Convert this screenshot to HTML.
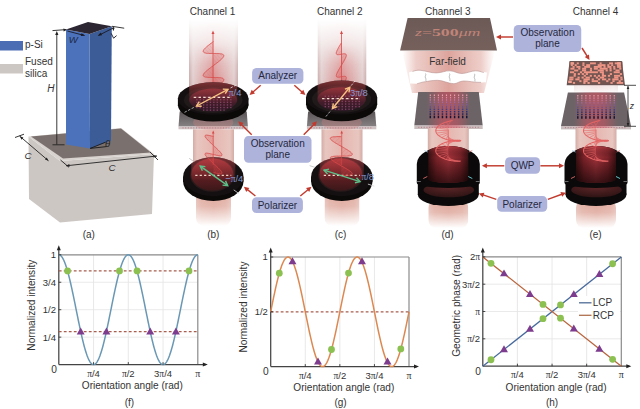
<!DOCTYPE html>
<html><head><meta charset="utf-8"><style>
html,body{margin:0;padding:0;background:#fff;}
svg{display:block;font-family:"Liberation Sans", sans-serif;}
</style></head><body>
<svg width="640" height="409" viewBox="0 0 640 409">
<defs>
<linearGradient id="beamH" x1="0" x2="1" y1="0" y2="0">
 <stop offset="0" stop-color="#c8a4a4" stop-opacity="0.5"/>
 <stop offset="0.1" stop-color="#dcc0c0" stop-opacity="0.55"/>
 <stop offset="0.5" stop-color="#e2aaaa" stop-opacity="0.65"/>
 <stop offset="0.9" stop-color="#dcc0c0" stop-opacity="0.55"/>
 <stop offset="1" stop-color="#c8a4a4" stop-opacity="0.5"/>
</linearGradient>
<linearGradient id="bTop" x1="0" x2="1" y1="0" y2="0">
 <stop offset="0" stop-color="#c09a9a"/>
 <stop offset="0.08" stop-color="#dcc4c4"/>
 <stop offset="0.5" stop-color="#dcaaaa"/>
 <stop offset="0.92" stop-color="#dcc4c4"/>
 <stop offset="1" stop-color="#c09a9a"/>
</linearGradient>
<linearGradient id="bMid" x1="0" x2="1" y1="0" y2="0">
 <stop offset="0" stop-color="#d4aca6"/>
 <stop offset="0.1" stop-color="#e8c6c0"/>
 <stop offset="0.5" stop-color="#e6b6b0"/>
 <stop offset="0.9" stop-color="#e8c6c0"/>
 <stop offset="1" stop-color="#d4aca6"/>
</linearGradient>
<linearGradient id="bBot" x1="0" x2="1" y1="0" y2="0">
 <stop offset="0" stop-color="#e4bcb4"/>
 <stop offset="0.15" stop-color="#e0aca0"/>
 <stop offset="0.5" stop-color="#dca296"/>
 <stop offset="0.85" stop-color="#e0aca0"/>
 <stop offset="1" stop-color="#e4bcb4"/>
</linearGradient>
<linearGradient id="glowH" x1="0" x2="1" y1="0" y2="0">
 <stop offset="0" stop-color="#d05050" stop-opacity="0"/>
 <stop offset="0.3" stop-color="#d05050" stop-opacity="0.3"/>
 <stop offset="0.5" stop-color="#d04848" stop-opacity="0.5"/>
 <stop offset="0.7" stop-color="#d05050" stop-opacity="0.3"/>
 <stop offset="1" stop-color="#d05050" stop-opacity="0"/>
</linearGradient>
<linearGradient id="fadeUp" x1="0" x2="0" y1="0" y2="1">
 <stop offset="0" stop-color="#fff" stop-opacity="0"/>
 <stop offset="0.35" stop-color="#fff" stop-opacity="0.45"/>
 <stop offset="1" stop-color="#fff" stop-opacity="1"/>
</linearGradient>
<linearGradient id="fadeDown" x1="0" x2="0" y1="0" y2="1">
 <stop offset="0" stop-color="#fff" stop-opacity="1"/>
 <stop offset="0.6" stop-color="#fff" stop-opacity="0.6"/>
 <stop offset="1" stop-color="#fff" stop-opacity="0"/>
</linearGradient>
<mask id="mUp" maskContentUnits="objectBoundingBox"><rect x="0" y="0" width="1" height="1" fill="url(#fadeUp)"/></mask>
<mask id="mDown" maskContentUnits="objectBoundingBox"><rect x="0" y="0" width="1" height="1" fill="url(#fadeDown)"/></mask>
<linearGradient id="fadeTop2" x1="0" x2="0" y1="0" y2="1">
 <stop offset="0" stop-color="#fff" stop-opacity="0"/>
 <stop offset="0.25" stop-color="#fff" stop-opacity="0.25"/>
 <stop offset="0.6" stop-color="#fff" stop-opacity="0.7"/>
 <stop offset="1" stop-color="#fff" stop-opacity="0.95"/>
</linearGradient>
<mask id="mTop2" maskContentUnits="objectBoundingBox"><rect x="0" y="0" width="1" height="1" fill="url(#fadeTop2)"/></mask>
<linearGradient id="fadeBot2" x1="0" x2="0" y1="0" y2="1">
 <stop offset="0" stop-color="#fff" stop-opacity="1"/>
 <stop offset="0.45" stop-color="#fff" stop-opacity="0.8"/>
 <stop offset="1" stop-color="#fff" stop-opacity="0"/>
</linearGradient>
<mask id="mBot2" maskContentUnits="objectBoundingBox"><rect x="0" y="0" width="1" height="1" fill="url(#fadeBot2)"/></mask>
<linearGradient id="plate" x1="0" x2="0" y1="0" y2="1">
 <stop offset="0" stop-color="#5a5456"/>
 <stop offset="1" stop-color="#858082"/>
</linearGradient>
<radialGradient id="win" cx="0.5" cy="0.5" r="0.5">
 <stop offset="0" stop-color="#b83a44"/>
 <stop offset="0.7" stop-color="#8a2c36"/>
 <stop offset="1" stop-color="#4a2024"/>
</radialGradient>
<linearGradient id="cyl" x1="0" x2="1" y1="0" y2="0">
 <stop offset="0" stop-color="#6a1c22"/>
 <stop offset="0.5" stop-color="#c8404a"/>
 <stop offset="1" stop-color="#6a1c22"/>
</linearGradient>
<linearGradient id="ffield" x1="0" x2="0" y1="0" y2="1">
 <stop offset="0" stop-color="#e8b0a8" stop-opacity="0.9"/>
 <stop offset="1" stop-color="#e08888" stop-opacity="0.9"/>
</linearGradient>

<linearGradient id="winA" x1="0" x2="0" y1="0" y2="1">
 <stop offset="0" stop-color="#6e262e"/>
 <stop offset="0.5" stop-color="#4a1e2a"/>
 <stop offset="1" stop-color="#301a28"/>
</linearGradient>
<linearGradient id="winP" x1="0" x2="0" y1="0" y2="1">
 <stop offset="0" stop-color="#8a2a2e"/>
 <stop offset="0.5" stop-color="#642024"/>
 <stop offset="1" stop-color="#3c1719"/>
</linearGradient>
<linearGradient id="beamIn" x1="0" x2="0" y1="0" y2="1">
 <stop offset="0" stop-color="#d04a50" stop-opacity="0.55"/>
 <stop offset="1" stop-color="#d04a50" stop-opacity="0"/>
</linearGradient>

<linearGradient id="ffH" x1="0" x2="1" y1="0" y2="0">
 <stop offset="0" stop-color="#e8b8b0" stop-opacity="0"/>
 <stop offset="0.15" stop-color="#e2aca4" stop-opacity="0.6"/>
 <stop offset="0.5" stop-color="#da9c94" stop-opacity="0.92"/>
 <stop offset="0.85" stop-color="#e2aca4" stop-opacity="0.6"/>
 <stop offset="1" stop-color="#e8b8b0" stop-opacity="0"/>
</linearGradient>
<linearGradient id="obsG" x1="0" x2="0" y1="0" y2="1">
 <stop offset="0" stop-color="#6c5a57"/>
 <stop offset="1" stop-color="#76605c"/>
</linearGradient>

<linearGradient id="metaGlow" x1="0" x2="1" y1="0" y2="0">
 <stop offset="0" stop-color="#e05060" stop-opacity="0"/>
 <stop offset="0.3" stop-color="#e05060" stop-opacity="0.45"/>
 <stop offset="0.5" stop-color="#e05060" stop-opacity="0.55"/>
 <stop offset="0.7" stop-color="#e05060" stop-opacity="0.45"/>
 <stop offset="1" stop-color="#e05060" stop-opacity="0"/>
</linearGradient>
<linearGradient id="cylR" x1="0" x2="1" y1="0" y2="0">
 <stop offset="0" stop-color="#4a1418"/>
 <stop offset="0.35" stop-color="#a8303a"/>
 <stop offset="0.6" stop-color="#b83a44"/>
 <stop offset="1" stop-color="#4a1418"/>
</linearGradient>
<linearGradient id="cylV" x1="0" x2="0" y1="0" y2="1">
 <stop offset="0" stop-color="#000" stop-opacity="0"/>
 <stop offset="1" stop-color="#000" stop-opacity="0.45"/>
</linearGradient>

<linearGradient id="colH" x1="0" x2="1" y1="0" y2="0">
 <stop offset="0" stop-color="#3a1012"/>
 <stop offset="0.2" stop-color="#7a2228"/>
 <stop offset="0.5" stop-color="#a0323a"/>
 <stop offset="0.8" stop-color="#7a2228"/>
 <stop offset="1" stop-color="#3a1012"/>
</linearGradient>
<linearGradient id="colV" x1="0" x2="0" y1="0" y2="1">
 <stop offset="0" stop-color="#e05058" stop-opacity="0.4"/>
 <stop offset="0.3" stop-color="#000" stop-opacity="0"/>
 <stop offset="1" stop-color="#000" stop-opacity="0.62"/>
</linearGradient>
<radialGradient id="polWin" cx="0.5" cy="0.3" r="0.65">
 <stop offset="0" stop-color="#5e2628"/>
 <stop offset="1" stop-color="#321516"/>
</radialGradient>
</defs>
<rect width="640" height="409" fill="#fff"/>
<g id="pa">
<rect x="0" y="41" width="23" height="9.5" fill="#4a6db4"/>
<text x="25" y="48" font-size="10" fill="#333" text-anchor="start" >p-Si</text>
<rect x="0" y="64" width="23" height="9.5" fill="#cdc7c4"/>
<text x="25" y="65.2" font-size="10" fill="#333" text-anchor="start" >Fused</text>
<text x="25" y="76.6" font-size="10" fill="#333" text-anchor="start" >silica</text>
<polygon points="28.50,136.50 60.00,161.00 154.00,154.00 152.00,214.00 60.00,222.50 29.00,199.00" fill="#cdc7c4" />
<polygon points="28.50,136.50 121.00,128.00 154.00,154.00 60.00,161.00" fill="#d9d3d0" />
<polygon points="31.00,136.50 121.00,128.50 151.00,152.50 63.00,158.50" fill="#7a716e" />
<polygon points="66.00,29.50 89.50,34.00 90.00,148.50 66.00,144.50" fill="#4b72bb" />
<polygon points="89.50,34.00 111.80,26.30 111.00,140.80 90.00,148.50" fill="#3c5c98" />
<polygon points="66.00,29.50 88.00,21.90 111.80,26.30 89.50,34.00" fill="#2b2632" />
<path d="M105.5,142.2 L90.2,148.4 L106.5,146.6" fill="none" stroke="#1a1a1a" stroke-width="0.9"/>
<text x="105" y="147.4" font-size="9.5" fill="#222" text-anchor="start" font-style="italic">θ</text>
<line x1="56.80" y1="33.00" x2="56.80" y2="144.50" stroke="#222" stroke-width="0.9" />
<polygon points="56.80,31.00 58.40,35.00 55.20,35.00" fill="#222" />
<line x1="52.50" y1="144.80" x2="64.50" y2="144.80" stroke="#222" stroke-width="0.9" />
<text x="47.2" y="92.2" font-size="10" fill="#333" text-anchor="start" font-style="italic">H</text>
<line x1="67.30" y1="31.00" x2="84.50" y2="35.50" stroke="#1a1a22" stroke-width="0.9" />
<polygon points="85.00,35.60 80.75,36.05 81.51,33.14" fill="#1a1a22" />
<line x1="98.60" y1="35.40" x2="113.60" y2="27.80" stroke="#1a1a22" stroke-width="0.9" />
<polygon points="97.80,35.80 100.65,32.61 102.04,35.27" fill="#1a1a22" />
<line x1="112.00" y1="26.30" x2="124.20" y2="28.20" stroke="#222" stroke-width="0.9" />
<line x1="52.50" y1="30.60" x2="66.00" y2="29.60" stroke="#222" stroke-width="0.9" />
<polygon points="67.00,29.80 63.57,31.45 63.44,28.46" fill="#222" />
<line x1="113.40" y1="26.80" x2="113.40" y2="30.50" stroke="#222" stroke-width="0.8" />
<polygon points="113.40,30.80 112.10,27.80 114.70,27.80" fill="#222" />
<text x="68.8" y="43.2" font-size="9.6" fill="#1e2a48" text-anchor="start" font-style="italic">W</text>
<path d="M111.2,33.4 L113.6,38.2 L116.6,35.6" fill="none" stroke="#1a1a22" stroke-width="0.9"/>
<line x1="19.50" y1="136.00" x2="48.50" y2="160.80" stroke="#222" stroke-width="0.9" />
<polygon points="48.50,160.80 44.93,159.58 46.76,157.46" fill="#222" />
<polygon points="19.80,136.30 23.37,137.51 21.55,139.64" fill="#222" />
<line x1="15.00" y1="137.50" x2="24.00" y2="134.20" stroke="#222" stroke-width="0.9" />
<line x1="60.50" y1="160.00" x2="69.00" y2="167.30" stroke="#222" stroke-width="0.9" />
<line x1="66.00" y1="165.80" x2="157.00" y2="156.00" stroke="#222" stroke-width="0.9" />
<polygon points="66.00,165.80 69.32,164.02 69.63,166.80" fill="#222" />
<polygon points="157.00,156.00 153.68,157.78 153.37,155.00" fill="#222" />
<line x1="150.00" y1="152.00" x2="158.00" y2="160.00" stroke="#222" stroke-width="0.9" />
<text x="24.6" y="158.6" font-size="9.8" fill="#333" text-anchor="start" font-style="italic">C</text>
<text x="108.4" y="170.6" font-size="9.8" fill="#333" text-anchor="start" font-style="italic">C</text>
<text x="88.8" y="238.3" font-size="10" fill="#333" text-anchor="middle" >(a)</text>
</g>
<rect x="189.0" y="19" width="49.0" height="76" rx="0" fill="url(#bTop)" mask="url(#mTop2)" opacity="1"/>
<rect x="193.5" y="45" width="40.0" height="50" rx="0" fill="url(#glowH)" mask="url(#mUp)" opacity="1"/>
<path d="M213.50,41.50 L212.60,42.17 L211.71,42.83 L210.83,43.49 L209.97,44.14 L209.13,44.78 L208.33,45.41 L207.57,46.03 L206.86,46.63 L206.20,47.20 L205.59,47.76 L205.04,48.30 L204.56,48.81 L204.15,49.30 L203.81,49.76 L203.54,50.19 L203.35,50.60 L203.23,50.97 L203.20,51.32 L203.24,51.64 L203.37,51.93 L203.57,52.19 L203.84,52.42 L204.20,52.63 L204.62,52.80 L205.11,52.96 L205.66,53.09 L206.28,53.20 L206.95,53.28 L207.67,53.35 L208.43,53.40 L209.23,53.44 L210.07,53.47 L210.93,53.48 L211.82,53.49 L212.71,53.50 L213.61,53.50 L214.51,53.50 L215.40,53.51 L216.28,53.52 L217.14,53.54 L217.97,53.57 L218.76,53.61 L219.52,53.66 L220.22,53.74 L220.88,53.83 L221.48,53.94 L222.02,54.08 L222.49,54.24 L222.90,54.42 L223.23,54.63 L223.49,54.87 L223.67,55.14 L223.77,55.44 L223.80,55.76 L223.74,56.12 L223.61,56.50 L223.40,56.91 L223.12,57.35 L222.76,57.82 L222.33,58.31 L221.83,58.83 L221.27,59.37 L220.64,59.94 L219.97,60.52 L219.24,61.12 L218.47,61.74 L217.66,62.37 L216.82,63.02 L215.96,63.67 L215.07,64.33 L214.18,65.00 L213.28,65.67 L212.38,66.33 L211.49,66.99 L210.61,67.65 L209.76,68.30 L208.93,68.94 L208.14,69.57 L207.39,70.18 L206.69,70.77 L206.04,71.34 L205.45,71.90 L204.92,72.43 L204.45,72.93 L204.06,73.41 L203.73,73.87 L203.48,74.30 L203.31,74.69 L203.22,75.06 L203.20,75.40 L203.27,75.71 L203.41,75.99 L203.63,76.25 L203.92,76.47 L204.29,76.67 L204.73,76.84 L205.24,76.99 L205.81,77.12 L206.44,77.22 L207.12,77.30 L207.85,77.37 L208.63,77.42 L209.44,77.45 L210.28,77.47 L211.15,77.49 L212.04,77.50 L212.93,77.50 L213.83,77.50 L214.73,77.50 L215.62,77.51 L216.50,77.52 L217.35,77.54 L218.17,77.57 L218.95,77.62 L219.70,77.68 L220.39,77.76 L221.04,77.85 L221.62,77.97 L222.14,78.11 L222.60,78.28 L222.99,78.47 L223.30,78.69 L223.54,78.94 L223.70,79.21 L223.79,79.52 L223.79,79.85 L223.72,80.21 L223.57,80.60 L223.34,81.02 L223.03,81.47 L222.66,81.94 L222.21,82.44 L221.69,82.96 L221.12,83.51 L220.48,84.08 L219.79,84.67 L219.06,85.27 L218.28,85.90 L217.46,86.53 L216.61,87.18 L215.74,87.84 L214.85,88.50 L213.96,89.16 L213.05,89.83 L212.16,90.50" fill="none" stroke="#d84848" stroke-width="0.8"/>
<line x1="213.50" y1="42.80" x2="210.06" y2="44.07" stroke="#d84848" stroke-width="0.4" opacity="0.8"/>
<line x1="213.50" y1="44.10" x2="207.02" y2="46.49" stroke="#d84848" stroke-width="0.4" opacity="0.8"/>
<line x1="213.50" y1="45.40" x2="204.72" y2="48.64" stroke="#d84848" stroke-width="0.4" opacity="0.8"/>
<line x1="213.50" y1="46.70" x2="203.43" y2="50.42" stroke="#d84848" stroke-width="0.4" opacity="0.8"/>
<line x1="213.50" y1="48.00" x2="203.29" y2="51.77" stroke="#d84848" stroke-width="0.4" opacity="0.8"/>
<line x1="213.50" y1="49.30" x2="204.32" y2="52.69" stroke="#d84848" stroke-width="0.4" opacity="0.8"/>
<line x1="213.50" y1="50.60" x2="206.41" y2="53.22" stroke="#d84848" stroke-width="0.4" opacity="0.8"/>
<line x1="213.50" y1="51.90" x2="209.31" y2="53.45" stroke="#d84848" stroke-width="0.4" opacity="0.8"/>
<line x1="213.50" y1="54.50" x2="216.17" y2="53.52" stroke="#d84848" stroke-width="0.4" opacity="0.8"/>
<line x1="213.50" y1="55.80" x2="219.33" y2="53.65" stroke="#d84848" stroke-width="0.4" opacity="0.8"/>
<line x1="213.50" y1="57.10" x2="221.83" y2="54.03" stroke="#d84848" stroke-width="0.4" opacity="0.8"/>
<line x1="213.50" y1="58.40" x2="223.38" y2="54.76" stroke="#d84848" stroke-width="0.4" opacity="0.8"/>
<line x1="213.50" y1="59.70" x2="223.79" y2="55.91" stroke="#d84848" stroke-width="0.4" opacity="0.8"/>
<line x1="213.50" y1="61.00" x2="223.02" y2="57.49" stroke="#d84848" stroke-width="0.4" opacity="0.8"/>
<line x1="213.50" y1="62.30" x2="221.15" y2="59.48" stroke="#d84848" stroke-width="0.4" opacity="0.8"/>
<line x1="213.50" y1="63.60" x2="218.41" y2="61.79" stroke="#d84848" stroke-width="0.4" opacity="0.8"/>
<line x1="213.50" y1="64.90" x2="215.11" y2="64.31" stroke="#d84848" stroke-width="0.4" opacity="0.8"/>
<line x1="213.50" y1="66.20" x2="211.62" y2="66.89" stroke="#d84848" stroke-width="0.4" opacity="0.8"/>
<line x1="213.50" y1="67.50" x2="208.35" y2="69.40" stroke="#d84848" stroke-width="0.4" opacity="0.8"/>
<line x1="213.50" y1="68.80" x2="205.67" y2="71.69" stroke="#d84848" stroke-width="0.4" opacity="0.8"/>
<line x1="213.50" y1="70.10" x2="203.88" y2="73.65" stroke="#d84848" stroke-width="0.4" opacity="0.8"/>
<line x1="213.50" y1="71.40" x2="203.20" y2="75.20" stroke="#d84848" stroke-width="0.4" opacity="0.8"/>
<line x1="213.50" y1="72.70" x2="203.70" y2="76.31" stroke="#d84848" stroke-width="0.4" opacity="0.8"/>
<line x1="213.50" y1="74.00" x2="205.33" y2="77.01" stroke="#d84848" stroke-width="0.4" opacity="0.8"/>
<line x1="213.50" y1="75.30" x2="207.89" y2="77.37" stroke="#d84848" stroke-width="0.4" opacity="0.8"/>
<line x1="213.50" y1="76.60" x2="211.10" y2="77.49" stroke="#d84848" stroke-width="0.4" opacity="0.8"/>
<line x1="213.50" y1="79.20" x2="217.93" y2="77.56" stroke="#d84848" stroke-width="0.4" opacity="0.8"/>
<line x1="213.50" y1="80.50" x2="220.78" y2="77.81" stroke="#d84848" stroke-width="0.4" opacity="0.8"/>
<line x1="213.50" y1="81.80" x2="222.80" y2="78.37" stroke="#d84848" stroke-width="0.4" opacity="0.8"/>
<line x1="213.50" y1="83.10" x2="223.74" y2="79.32" stroke="#d84848" stroke-width="0.4" opacity="0.8"/>
<line x1="213.50" y1="84.40" x2="223.52" y2="80.70" stroke="#d84848" stroke-width="0.4" opacity="0.8"/>
<line x1="213.50" y1="85.70" x2="222.14" y2="82.51" stroke="#d84848" stroke-width="0.4" opacity="0.8"/>
<line x1="213.50" y1="87.00" x2="219.77" y2="84.69" stroke="#d84848" stroke-width="0.4" opacity="0.8"/>
<line x1="213.50" y1="88.30" x2="216.68" y2="87.13" stroke="#d84848" stroke-width="0.4" opacity="0.8"/>
<line x1="213.00" y1="34.00" x2="213.00" y2="90.00" stroke="#d84848" stroke-width="0.8" />
<polygon points="213.00,30.50 214.50,34.00 211.50,34.00" fill="#d84848" />
<polygon points="179.70,111.50 246.70,111.50 247.90,126.50 178.50,126.50" fill="url(#plate)" />
<rect x="178.50" y="126.50" width="69.40" height="2.8" fill="#cfc2c2"/>
<line x1="182.50" y1="127.90" x2="243.90" y2="127.90" stroke="#b07080" stroke-width="0.9" stroke-dasharray="1 1.7"/>
<ellipse cx="213.2" cy="122.4" rx="20.10" ry="8.01" fill="#d08080" opacity="0.35"/>
<clipPath id="dc1"><ellipse cx="213.2" cy="98.5" rx="35.3" ry="16.3"/></clipPath>
<ellipse cx="213.2" cy="105.2" rx="35.3" ry="16.3" fill="#0c0909"/>
<rect x="177.89999999999998" y="98.5" width="70.6" height="6.7" fill="#0c0909"/>
<ellipse cx="213.2" cy="98.5" rx="35.3" ry="16.3" fill="#141011"/>
<ellipse cx="213.2" cy="100.0" rx="29.30" ry="13.04" fill="#211a1b"/>
<ellipse cx="213.2" cy="100.0" rx="24.00" ry="11.41" fill="url(#winA)"/>
<g fill="#9a5078" opacity="0.75"><rect x="196.2" y="96.5" width="1.3" height="1.3"/><rect x="196.2" y="99.1" width="1.3" height="1.3"/><rect x="196.2" y="101.7" width="1.3" height="1.3"/><rect x="196.2" y="104.3" width="1.3" height="1.3"/><rect x="196.2" y="106.9" width="1.3" height="1.3"/><rect x="199.6" y="96.5" width="1.3" height="1.3"/><rect x="199.6" y="99.1" width="1.3" height="1.3"/><rect x="199.6" y="101.7" width="1.3" height="1.3"/><rect x="199.6" y="104.3" width="1.3" height="1.3"/><rect x="199.6" y="106.9" width="1.3" height="1.3"/><rect x="203.0" y="96.5" width="1.3" height="1.3"/><rect x="203.0" y="99.1" width="1.3" height="1.3"/><rect x="203.0" y="101.7" width="1.3" height="1.3"/><rect x="203.0" y="104.3" width="1.3" height="1.3"/><rect x="203.0" y="106.9" width="1.3" height="1.3"/><rect x="203.0" y="109.5" width="1.3" height="1.3"/><rect x="206.4" y="96.5" width="1.3" height="1.3"/><rect x="206.4" y="99.1" width="1.3" height="1.3"/><rect x="206.4" y="101.7" width="1.3" height="1.3"/><rect x="206.4" y="104.3" width="1.3" height="1.3"/><rect x="206.4" y="106.9" width="1.3" height="1.3"/><rect x="206.4" y="109.5" width="1.3" height="1.3"/><rect x="209.8" y="96.5" width="1.3" height="1.3"/><rect x="209.8" y="99.1" width="1.3" height="1.3"/><rect x="209.8" y="101.7" width="1.3" height="1.3"/><rect x="209.8" y="104.3" width="1.3" height="1.3"/><rect x="209.8" y="106.9" width="1.3" height="1.3"/><rect x="209.8" y="109.5" width="1.3" height="1.3"/><rect x="213.2" y="96.5" width="1.3" height="1.3"/><rect x="213.2" y="99.1" width="1.3" height="1.3"/><rect x="213.2" y="101.7" width="1.3" height="1.3"/><rect x="213.2" y="104.3" width="1.3" height="1.3"/><rect x="213.2" y="106.9" width="1.3" height="1.3"/><rect x="213.2" y="109.5" width="1.3" height="1.3"/><rect x="216.6" y="96.5" width="1.3" height="1.3"/><rect x="216.6" y="99.1" width="1.3" height="1.3"/><rect x="216.6" y="101.7" width="1.3" height="1.3"/><rect x="216.6" y="104.3" width="1.3" height="1.3"/><rect x="216.6" y="106.9" width="1.3" height="1.3"/><rect x="216.6" y="109.5" width="1.3" height="1.3"/><rect x="220.0" y="96.5" width="1.3" height="1.3"/><rect x="220.0" y="99.1" width="1.3" height="1.3"/><rect x="220.0" y="101.7" width="1.3" height="1.3"/><rect x="220.0" y="104.3" width="1.3" height="1.3"/><rect x="220.0" y="106.9" width="1.3" height="1.3"/><rect x="220.0" y="109.5" width="1.3" height="1.3"/><rect x="223.4" y="96.5" width="1.3" height="1.3"/><rect x="223.4" y="99.1" width="1.3" height="1.3"/><rect x="223.4" y="101.7" width="1.3" height="1.3"/><rect x="223.4" y="104.3" width="1.3" height="1.3"/><rect x="223.4" y="106.9" width="1.3" height="1.3"/><rect x="223.4" y="109.5" width="1.3" height="1.3"/><rect x="226.8" y="96.5" width="1.3" height="1.3"/><rect x="226.8" y="99.1" width="1.3" height="1.3"/><rect x="226.8" y="101.7" width="1.3" height="1.3"/><rect x="226.8" y="104.3" width="1.3" height="1.3"/><rect x="226.8" y="106.9" width="1.3" height="1.3"/><rect x="230.2" y="96.5" width="1.3" height="1.3"/><rect x="230.2" y="99.1" width="1.3" height="1.3"/><rect x="230.2" y="101.7" width="1.3" height="1.3"/><rect x="230.2" y="104.3" width="1.3" height="1.3"/><rect x="230.2" y="106.9" width="1.3" height="1.3"/></g>
<rect x="189.2" y="82.2" width="48" height="21.19" fill="url(#beamIn)" clip-path="url(#dc1)"/>
<line x1="193.7" y1="97.4" x2="231.2" y2="97.4" stroke="#f4dcd0" stroke-width="1.3" stroke-dasharray="2.4 2.4"/>
<line x1="184.53" y1="112.35" x2="193.98" y2="107.34" stroke="#ccc" stroke-width="0.8" stroke-dasharray="2.5 1.5"/>
<line x1="230.52" y1="87.96" x2="237.45" y2="84.29" stroke="#e8e8e8" stroke-width="0.8" stroke-dasharray="2.5 1.5"/>
<line x1="196.50" y1="106.00" x2="228.00" y2="89.30" stroke="#f7c283" stroke-width="1.4"/>
<polyline points="225.24,93.70 228.00,89.30 222.81,89.11" fill="none" stroke="#f7c283" stroke-width="1.4"/>
<polyline points="201.69,106.19 196.50,106.00 199.26,101.60" fill="none" stroke="#f7c283" stroke-width="1.4"/>
<text x="228.8" y="95.6" font-size="9.4" fill="#8a9ad0" text-anchor="start" ><tspan font-family="Liberation Serif">π</tspan>/4</text>
<rect x="193.0" y="129.3" width="41.0" height="40.69999999999999" rx="0" fill="url(#bMid)" opacity="1"/>
<rect x="196.0" y="190" width="35.0" height="36" rx="8" fill="url(#bBot)" mask="url(#mBot2)" opacity="1"/>
<clipPath id="dc2"><ellipse cx="213.3" cy="176.8" rx="30.2" ry="19.5"/></clipPath>
<ellipse cx="213.3" cy="181.5" rx="30.2" ry="19.5" fill="#0c0909"/>
<rect x="183.10000000000002" y="176.8" width="60.4" height="4.7" fill="#0c0909"/>
<ellipse cx="213.3" cy="176.8" rx="30.2" ry="19.5" fill="#141011"/>
<ellipse cx="212.3" cy="174.8" rx="22.35" ry="16.96" fill="#2a1a1b"/>
<ellipse cx="212.3" cy="174.5" rx="21.14" ry="15.99" fill="url(#winP)"/>
<rect x="191.3" y="157.3" width="44" height="23.40" fill="url(#beamIn)" clip-path="url(#dc2)"/>
<line x1="195.3" y1="175.3" x2="231.3" y2="175.3" stroke="#f0d8c8" stroke-width="1.3" stroke-dasharray="2.2 2.2"/>
<line x1="189.20" y1="158.30" x2="193.32" y2="161.22" stroke="#bbb" stroke-width="0.8"/>
<line x1="233.75" y1="189.89" x2="238.70" y2="193.40" stroke="#ddd" stroke-width="0.8"/>
<line x1="200.20" y1="166.10" x2="227.70" y2="185.60" stroke="#5cc089" stroke-width="1.4"/>
<polyline points="222.53,185.12 227.70,185.60 225.53,180.88" fill="none" stroke="#5cc089" stroke-width="1.4"/>
<polyline points="202.37,170.82 200.20,166.10 205.37,166.58" fill="none" stroke="#5cc089" stroke-width="1.4"/>
<text x="225.2" y="182.3" font-size="9.4" fill="#8a9ad0" text-anchor="start" >−<tspan font-family="Liberation Serif">π</tspan>/4</text>
<path d="M213.50,136.50 L212.51,136.25 L211.54,136.01 L210.59,135.79 L209.69,135.59 L208.83,135.42 L208.04,135.29 L207.32,135.20 L206.68,135.16 L206.14,135.17 L205.70,135.24 L205.36,135.38 L205.13,135.58 L205.01,135.84 L205.01,136.18 L205.13,136.58 L205.36,137.04 L205.70,137.58 L206.14,138.17 L206.68,138.82 L207.32,139.53 L208.04,140.29 L208.83,141.09 L209.69,141.92 L210.59,142.79 L211.54,143.68 L212.51,144.59 L213.50,145.50 L214.49,146.41 L215.46,147.32 L216.41,148.21 L217.31,149.08 L218.17,149.91 L218.96,150.71 L219.68,151.47 L220.32,152.18 L220.86,152.83 L221.30,153.42 L221.64,153.96 L221.87,154.42 L221.99,154.82 L221.99,155.16 L221.87,155.42 L221.64,155.62 L221.30,155.76 L220.86,155.83 L220.32,155.84 L219.68,155.80 L218.96,155.71 L218.17,155.58 L217.31,155.41 L216.41,155.21 L215.46,154.99 L214.49,154.75 L213.50,154.50 L212.51,154.25 L211.54,154.01 L210.59,153.79 L209.69,153.59 L208.83,153.42 L208.04,153.29 L207.32,153.20 L206.68,153.16 L206.14,153.17 L205.70,153.24 L205.36,153.38 L205.13,153.58 L205.01,153.84 L205.01,154.18 L205.13,154.58 L205.36,155.04 L205.70,155.58 L206.14,156.17 L206.68,156.82 L207.32,157.53 L208.04,158.29 L208.83,159.09 L209.69,159.92 L210.59,160.79 L211.54,161.68 L212.51,162.59 L213.50,163.50 L214.49,164.41 L215.46,165.32 L216.41,166.21 L217.31,167.08 L218.17,167.91 L218.96,168.71 L219.68,169.47 L220.32,170.18 L220.86,170.83 L221.30,171.42 L221.64,171.96 L221.87,172.42 L221.99,172.82 L221.99,173.16 L221.87,173.42 L221.64,173.62 L221.30,173.76 L220.86,173.83 L220.32,173.84 L219.68,173.80 L218.96,173.71 L218.17,173.58 L217.31,173.41 L216.41,173.21 L215.46,172.99 L214.49,172.75 L213.50,172.50" fill="none" stroke="#d84848" stroke-width="0.8"/>
<line x1="213.50" y1="137.80" x2="209.77" y2="135.61" stroke="#d84848" stroke-width="0.4" opacity="0.8"/>
<line x1="213.50" y1="139.10" x2="206.80" y2="135.16" stroke="#d84848" stroke-width="0.4" opacity="0.8"/>
<line x1="213.50" y1="140.40" x2="205.19" y2="135.51" stroke="#d84848" stroke-width="0.4" opacity="0.8"/>
<line x1="213.50" y1="141.70" x2="205.25" y2="136.85" stroke="#d84848" stroke-width="0.4" opacity="0.8"/>
<line x1="213.50" y1="143.00" x2="206.99" y2="139.17" stroke="#d84848" stroke-width="0.4" opacity="0.8"/>
<line x1="213.50" y1="144.30" x2="210.04" y2="142.27" stroke="#d84848" stroke-width="0.4" opacity="0.8"/>
<line x1="213.50" y1="146.90" x2="217.49" y2="149.25" stroke="#d84848" stroke-width="0.4" opacity="0.8"/>
<line x1="213.50" y1="148.20" x2="220.38" y2="152.25" stroke="#d84848" stroke-width="0.4" opacity="0.8"/>
<line x1="213.50" y1="149.50" x2="221.87" y2="154.42" stroke="#d84848" stroke-width="0.4" opacity="0.8"/>
<line x1="213.50" y1="150.80" x2="221.67" y2="155.61" stroke="#d84848" stroke-width="0.4" opacity="0.8"/>
<line x1="213.50" y1="152.10" x2="219.82" y2="155.82" stroke="#d84848" stroke-width="0.4" opacity="0.8"/>
<line x1="213.50" y1="153.40" x2="216.68" y2="155.27" stroke="#d84848" stroke-width="0.4" opacity="0.8"/>
<line x1="213.50" y1="156.00" x2="209.25" y2="153.50" stroke="#d84848" stroke-width="0.4" opacity="0.8"/>
<line x1="213.50" y1="157.30" x2="206.45" y2="153.15" stroke="#d84848" stroke-width="0.4" opacity="0.8"/>
<line x1="213.50" y1="158.60" x2="205.08" y2="153.65" stroke="#d84848" stroke-width="0.4" opacity="0.8"/>
<line x1="213.50" y1="159.90" x2="205.42" y2="155.14" stroke="#d84848" stroke-width="0.4" opacity="0.8"/>
<line x1="213.50" y1="161.20" x2="207.39" y2="157.60" stroke="#d84848" stroke-width="0.4" opacity="0.8"/>
<line x1="213.50" y1="162.50" x2="210.59" y2="160.79" stroke="#d84848" stroke-width="0.4" opacity="0.8"/>
<line x1="213.50" y1="165.10" x2="218.00" y2="167.75" stroke="#d84848" stroke-width="0.4" opacity="0.8"/>
<line x1="213.50" y1="166.40" x2="220.71" y2="170.64" stroke="#d84848" stroke-width="0.4" opacity="0.8"/>
<line x1="213.50" y1="167.70" x2="221.95" y2="172.67" stroke="#d84848" stroke-width="0.4" opacity="0.8"/>
<line x1="213.50" y1="169.00" x2="221.49" y2="173.70" stroke="#d84848" stroke-width="0.4" opacity="0.8"/>
<line x1="213.50" y1="170.30" x2="219.40" y2="173.77" stroke="#d84848" stroke-width="0.4" opacity="0.8"/>
<line x1="213.50" y1="171.60" x2="216.13" y2="173.15" stroke="#d84848" stroke-width="0.4" opacity="0.8"/>
<line x1="213.20" y1="133.00" x2="213.20" y2="165.00" stroke="#d84848" stroke-width="0.7" />
<polygon points="213.20,130.50 214.50,133.50 211.90,133.50" fill="#d84848" />
<rect x="317.5" y="19" width="49.0" height="76" rx="0" fill="url(#bTop)" mask="url(#mTop2)" opacity="1"/>
<rect x="322" y="45" width="40" height="50" rx="0" fill="url(#glowH)" mask="url(#mUp)" opacity="1"/>
<path d="M341.30,43.00 L340.83,43.76 L340.37,44.52 L339.92,45.28 L339.47,46.02 L339.05,46.74 L338.64,47.45 L338.26,48.14 L337.90,48.80 L337.57,49.44 L337.28,50.04 L337.02,50.62 L336.80,51.16 L336.61,51.66 L336.47,52.13 L336.37,52.55 L336.31,52.94 L336.30,53.29 L336.33,53.59 L336.40,53.86 L336.52,54.09 L336.68,54.28 L336.88,54.43 L337.11,54.55 L337.39,54.63 L337.69,54.68 L338.03,54.71 L338.40,54.70 L338.79,54.68 L339.21,54.63 L339.64,54.57 L340.09,54.49 L340.54,54.40 L341.01,54.31 L341.47,54.21 L341.94,54.12 L342.40,54.03 L342.85,53.95 L343.29,53.89 L343.71,53.83 L344.10,53.80 L344.48,53.79 L344.82,53.81 L345.14,53.85 L345.42,53.93 L345.67,54.04 L345.88,54.18 L346.04,54.36 L346.17,54.58 L346.25,54.83 L346.30,55.13 L346.29,55.47 L346.25,55.85 L346.16,56.26 L346.03,56.72 L345.85,57.21 L345.64,57.74 L345.39,58.31 L345.10,58.91 L344.78,59.53 L344.43,60.19 L344.06,60.87 L343.66,61.57 L343.23,62.30 L342.80,63.04 L342.34,63.79 L341.88,64.54 L341.42,65.31 L340.95,66.07 L340.49,66.83 L340.03,67.59 L339.59,68.33 L339.15,69.06 L338.74,69.78 L338.35,70.47 L337.99,71.14 L337.65,71.78 L337.35,72.39 L337.08,72.98 L336.85,73.52 L336.66,74.04 L336.50,74.51 L336.39,74.95 L336.32,75.35 L336.30,75.70 L336.32,76.02 L336.38,76.30 L336.49,76.53 L336.63,76.73 L336.82,76.90 L337.05,77.02 L337.31,77.11 L337.61,77.17 L337.94,77.20 L338.30,77.21 L338.69,77.18 L339.10,77.14 L339.53,77.08 L339.97,77.01 L340.43,76.92 L340.89,76.83 L341.36,76.74 L341.82,76.64 L342.28,76.55 L342.74,76.47 L343.18,76.40 L343.60,76.35 L344.01,76.31 L344.39,76.29 L344.74,76.30 L345.06,76.34 L345.35,76.41 L345.61,76.51 L345.83,76.64 L346.01,76.81 L346.14,77.02 L346.24,77.27 L346.29,77.55 L346.30,77.88 L346.26,78.25 L346.18,78.65 L346.06,79.10 L345.90,79.58 L345.70,80.10 L345.46,80.66 L345.18,81.25 L344.87,81.87 L344.53,82.52 L344.16,83.20 L343.76,83.89 L343.34,84.61 L342.91,85.35 L342.46,86.09 L342.00,86.85 L341.54,87.61 L341.07,88.38 L340.60,89.14" fill="none" stroke="#d84848" stroke-width="0.8"/>
<line x1="341.30" y1="44.30" x2="339.52" y2="45.93" stroke="#d84848" stroke-width="0.4" opacity="0.8"/>
<line x1="341.30" y1="45.60" x2="337.98" y2="48.65" stroke="#d84848" stroke-width="0.4" opacity="0.8"/>
<line x1="341.30" y1="46.90" x2="336.87" y2="50.98" stroke="#d84848" stroke-width="0.4" opacity="0.8"/>
<line x1="341.30" y1="48.20" x2="336.34" y2="52.77" stroke="#d84848" stroke-width="0.4" opacity="0.8"/>
<line x1="341.30" y1="49.50" x2="336.45" y2="53.96" stroke="#d84848" stroke-width="0.4" opacity="0.8"/>
<line x1="341.30" y1="50.80" x2="337.19" y2="54.58" stroke="#d84848" stroke-width="0.4" opacity="0.8"/>
<line x1="341.30" y1="52.10" x2="338.48" y2="54.70" stroke="#d84848" stroke-width="0.4" opacity="0.8"/>
<line x1="341.30" y1="53.40" x2="340.12" y2="54.48" stroke="#d84848" stroke-width="0.4" opacity="0.8"/>
<line x1="341.30" y1="56.00" x2="343.65" y2="53.84" stroke="#d84848" stroke-width="0.4" opacity="0.8"/>
<line x1="341.30" y1="57.30" x2="345.06" y2="53.84" stroke="#d84848" stroke-width="0.4" opacity="0.8"/>
<line x1="341.30" y1="58.60" x2="345.99" y2="54.29" stroke="#d84848" stroke-width="0.4" opacity="0.8"/>
<line x1="341.30" y1="59.90" x2="346.30" y2="55.30" stroke="#d84848" stroke-width="0.4" opacity="0.8"/>
<line x1="341.30" y1="61.20" x2="345.96" y2="56.91" stroke="#d84848" stroke-width="0.4" opacity="0.8"/>
<line x1="341.30" y1="62.50" x2="345.02" y2="59.08" stroke="#d84848" stroke-width="0.4" opacity="0.8"/>
<line x1="341.30" y1="63.80" x2="343.59" y2="61.70" stroke="#d84848" stroke-width="0.4" opacity="0.8"/>
<line x1="341.30" y1="66.40" x2="340.06" y2="67.54" stroke="#d84848" stroke-width="0.4" opacity="0.8"/>
<line x1="341.30" y1="67.70" x2="338.42" y2="70.35" stroke="#d84848" stroke-width="0.4" opacity="0.8"/>
<line x1="341.30" y1="69.00" x2="337.15" y2="72.81" stroke="#d84848" stroke-width="0.4" opacity="0.8"/>
<line x1="341.30" y1="70.30" x2="336.43" y2="74.78" stroke="#d84848" stroke-width="0.4" opacity="0.8"/>
<line x1="341.30" y1="71.60" x2="336.34" y2="76.16" stroke="#d84848" stroke-width="0.4" opacity="0.8"/>
<line x1="341.30" y1="72.90" x2="336.90" y2="76.95" stroke="#d84848" stroke-width="0.4" opacity="0.8"/>
<line x1="341.30" y1="74.20" x2="338.03" y2="77.21" stroke="#d84848" stroke-width="0.4" opacity="0.8"/>
<line x1="341.30" y1="75.50" x2="339.59" y2="77.07" stroke="#d84848" stroke-width="0.4" opacity="0.8"/>
<line x1="341.30" y1="78.10" x2="343.14" y2="76.41" stroke="#d84848" stroke-width="0.4" opacity="0.8"/>
<line x1="341.30" y1="79.40" x2="344.67" y2="76.30" stroke="#d84848" stroke-width="0.4" opacity="0.8"/>
<line x1="341.30" y1="80.70" x2="345.76" y2="76.59" stroke="#d84848" stroke-width="0.4" opacity="0.8"/>
<line x1="341.30" y1="82.00" x2="346.27" y2="77.43" stroke="#d84848" stroke-width="0.4" opacity="0.8"/>
<line x1="341.30" y1="83.30" x2="346.13" y2="78.85" stroke="#d84848" stroke-width="0.4" opacity="0.8"/>
<line x1="341.30" y1="84.60" x2="345.37" y2="80.86" stroke="#d84848" stroke-width="0.4" opacity="0.8"/>
<line x1="341.30" y1="85.90" x2="344.07" y2="83.35" stroke="#d84848" stroke-width="0.4" opacity="0.8"/>
<line x1="341.30" y1="87.20" x2="342.41" y2="86.18" stroke="#d84848" stroke-width="0.4" opacity="0.8"/>
<line x1="341.50" y1="34.00" x2="341.50" y2="90.00" stroke="#d84848" stroke-width="0.8" />
<polygon points="341.50,30.50 343.00,34.00 340.00,34.00" fill="#d84848" />
<polygon points="308.10,111.50 375.10,111.50 376.30,126.50 306.90,126.50" fill="url(#plate)" />
<rect x="306.90" y="126.50" width="69.40" height="2.8" fill="#cfc2c2"/>
<line x1="310.90" y1="127.90" x2="372.30" y2="127.90" stroke="#b07080" stroke-width="0.9" stroke-dasharray="1 1.7"/>
<ellipse cx="341.6" cy="122.4" rx="20.10" ry="8.01" fill="#d08080" opacity="0.35"/>
<clipPath id="dc3"><ellipse cx="341.6" cy="97.6" rx="35.6" ry="17"/></clipPath>
<ellipse cx="341.6" cy="104.3" rx="35.6" ry="17" fill="#0c0909"/>
<rect x="306.0" y="97.6" width="71.2" height="6.7" fill="#0c0909"/>
<ellipse cx="341.6" cy="97.6" rx="35.6" ry="17" fill="#141011"/>
<ellipse cx="341.6" cy="99.1" rx="29.55" ry="13.60" fill="#211a1b"/>
<ellipse cx="341.6" cy="99.1" rx="24.21" ry="11.90" fill="url(#winA)"/>
<g fill="#9a5078" opacity="0.75"><rect x="324.6" y="95.6" width="1.3" height="1.3"/><rect x="324.6" y="98.2" width="1.3" height="1.3"/><rect x="324.6" y="100.8" width="1.3" height="1.3"/><rect x="324.6" y="103.4" width="1.3" height="1.3"/><rect x="324.6" y="106.0" width="1.3" height="1.3"/><rect x="328.0" y="95.6" width="1.3" height="1.3"/><rect x="328.0" y="98.2" width="1.3" height="1.3"/><rect x="328.0" y="100.8" width="1.3" height="1.3"/><rect x="328.0" y="103.4" width="1.3" height="1.3"/><rect x="328.0" y="106.0" width="1.3" height="1.3"/><rect x="331.4" y="95.6" width="1.3" height="1.3"/><rect x="331.4" y="98.2" width="1.3" height="1.3"/><rect x="331.4" y="100.8" width="1.3" height="1.3"/><rect x="331.4" y="103.4" width="1.3" height="1.3"/><rect x="331.4" y="106.0" width="1.3" height="1.3"/><rect x="331.4" y="108.6" width="1.3" height="1.3"/><rect x="334.8" y="95.6" width="1.3" height="1.3"/><rect x="334.8" y="98.2" width="1.3" height="1.3"/><rect x="334.8" y="100.8" width="1.3" height="1.3"/><rect x="334.8" y="103.4" width="1.3" height="1.3"/><rect x="334.8" y="106.0" width="1.3" height="1.3"/><rect x="334.8" y="108.6" width="1.3" height="1.3"/><rect x="338.2" y="95.6" width="1.3" height="1.3"/><rect x="338.2" y="98.2" width="1.3" height="1.3"/><rect x="338.2" y="100.8" width="1.3" height="1.3"/><rect x="338.2" y="103.4" width="1.3" height="1.3"/><rect x="338.2" y="106.0" width="1.3" height="1.3"/><rect x="338.2" y="108.6" width="1.3" height="1.3"/><rect x="341.6" y="95.6" width="1.3" height="1.3"/><rect x="341.6" y="98.2" width="1.3" height="1.3"/><rect x="341.6" y="100.8" width="1.3" height="1.3"/><rect x="341.6" y="103.4" width="1.3" height="1.3"/><rect x="341.6" y="106.0" width="1.3" height="1.3"/><rect x="341.6" y="108.6" width="1.3" height="1.3"/><rect x="345.0" y="95.6" width="1.3" height="1.3"/><rect x="345.0" y="98.2" width="1.3" height="1.3"/><rect x="345.0" y="100.8" width="1.3" height="1.3"/><rect x="345.0" y="103.4" width="1.3" height="1.3"/><rect x="345.0" y="106.0" width="1.3" height="1.3"/><rect x="345.0" y="108.6" width="1.3" height="1.3"/><rect x="348.4" y="95.6" width="1.3" height="1.3"/><rect x="348.4" y="98.2" width="1.3" height="1.3"/><rect x="348.4" y="100.8" width="1.3" height="1.3"/><rect x="348.4" y="103.4" width="1.3" height="1.3"/><rect x="348.4" y="106.0" width="1.3" height="1.3"/><rect x="348.4" y="108.6" width="1.3" height="1.3"/><rect x="351.8" y="95.6" width="1.3" height="1.3"/><rect x="351.8" y="98.2" width="1.3" height="1.3"/><rect x="351.8" y="100.8" width="1.3" height="1.3"/><rect x="351.8" y="103.4" width="1.3" height="1.3"/><rect x="351.8" y="106.0" width="1.3" height="1.3"/><rect x="351.8" y="108.6" width="1.3" height="1.3"/><rect x="355.2" y="95.6" width="1.3" height="1.3"/><rect x="355.2" y="98.2" width="1.3" height="1.3"/><rect x="355.2" y="100.8" width="1.3" height="1.3"/><rect x="355.2" y="103.4" width="1.3" height="1.3"/><rect x="355.2" y="106.0" width="1.3" height="1.3"/><rect x="358.6" y="95.6" width="1.3" height="1.3"/><rect x="358.6" y="98.2" width="1.3" height="1.3"/><rect x="358.6" y="100.8" width="1.3" height="1.3"/><rect x="358.6" y="103.4" width="1.3" height="1.3"/><rect x="358.6" y="106.0" width="1.3" height="1.3"/></g>
<rect x="317.6" y="80.6" width="48" height="22.10" fill="url(#beamIn)" clip-path="url(#dc3)"/>
<line x1="322.1" y1="98.6" x2="359.6" y2="98.6" stroke="#f4dcd0" stroke-width="1.3" stroke-dasharray="2.4 2.4"/>
<line x1="325.93" y1="116.56" x2="331.12" y2="110.20" stroke="#ccc" stroke-width="0.8" stroke-dasharray="2.5 1.5"/>
<line x1="351.18" y1="85.60" x2="354.99" y2="80.94" stroke="#e8e8e8" stroke-width="0.8" stroke-dasharray="2.5 1.5"/>
<line x1="332.50" y1="108.50" x2="349.80" y2="87.30" stroke="#f7c283" stroke-width="1.4"/>
<polyline points="348.97,92.43 349.80,87.30 344.94,89.14" fill="none" stroke="#f7c283" stroke-width="1.4"/>
<polyline points="337.36,106.66 332.50,108.50 333.33,103.37" fill="none" stroke="#f7c283" stroke-width="1.4"/>
<text x="350" y="96" font-size="9.4" fill="#8a9ad0" text-anchor="start" >3<tspan font-family="Liberation Serif">π</tspan>/8</text>
<rect x="321.5" y="129.3" width="41.0" height="40.69999999999999" rx="0" fill="url(#bMid)" opacity="1"/>
<rect x="324.5" y="190" width="35.0" height="36" rx="8" fill="url(#bBot)" mask="url(#mBot2)" opacity="1"/>
<clipPath id="dc4"><ellipse cx="341.8" cy="176.8" rx="30.7" ry="19.5"/></clipPath>
<ellipse cx="341.8" cy="181.5" rx="30.7" ry="19.5" fill="#0c0909"/>
<rect x="311.1" y="176.8" width="61.4" height="4.7" fill="#0c0909"/>
<ellipse cx="341.8" cy="176.8" rx="30.7" ry="19.5" fill="#141011"/>
<ellipse cx="340.8" cy="174.8" rx="22.72" ry="16.96" fill="#2a1a1b"/>
<ellipse cx="340.8" cy="174.5" rx="21.49" ry="15.99" fill="url(#winP)"/>
<rect x="319.8" y="157.3" width="44" height="23.40" fill="url(#beamIn)" clip-path="url(#dc4)"/>
<line x1="323.8" y1="175.3" x2="359.8" y2="175.3" stroke="#f0d8c8" stroke-width="1.3" stroke-dasharray="2.2 2.2"/>
<line x1="309.60" y1="165.64" x2="315.00" y2="167.35" stroke="#bbb" stroke-width="0.8"/>
<line x1="367.92" y1="184.11" x2="374.40" y2="186.16" stroke="#ddd" stroke-width="0.8"/>
<line x1="324.00" y1="170.20" x2="360.00" y2="181.60" stroke="#5cc089" stroke-width="1.4"/>
<polyline points="354.93,182.72 360.00,181.60 356.49,177.76" fill="none" stroke="#5cc089" stroke-width="1.4"/>
<polyline points="327.51,174.04 324.00,170.20 329.07,169.08" fill="none" stroke="#5cc089" stroke-width="1.4"/>
<text x="361.5" y="179.8" font-size="9.4" fill="#8a9ad0" text-anchor="start" ><tspan font-family="Liberation Serif">π</tspan>/8</text>
<path d="M341.30,136.60 L340.12,136.60 L338.95,136.61 L337.81,136.62 L336.71,136.64 L335.66,136.68 L334.68,136.74 L333.78,136.82 L332.96,136.92 L332.24,137.05 L331.62,137.21 L331.11,137.40 L330.73,137.63 L330.46,137.89 L330.32,138.18 L330.31,138.51 L330.42,138.88 L330.66,139.28 L331.03,139.72 L331.51,140.19 L332.11,140.69 L332.81,141.22 L333.61,141.78 L334.50,142.36 L335.46,142.97 L336.50,143.59 L337.59,144.24 L338.72,144.89 L339.88,145.55 L341.06,146.22 L342.25,146.88 L343.42,147.55 L344.56,148.21 L345.67,148.85 L346.73,149.48 L347.73,150.10 L348.65,150.69 L349.49,151.26 L350.23,151.80 L350.87,152.32 L351.39,152.80 L351.81,153.25 L352.09,153.67 L352.26,154.05 L352.30,154.39 L352.21,154.70 L351.99,154.97 L351.65,155.21 L351.20,155.42 L350.62,155.59 L349.94,155.73 L349.16,155.84 L348.29,155.93 L347.34,156.00 L346.31,156.04 L345.23,156.07 L344.11,156.09 L342.95,156.10 L341.77,156.10 L340.59,156.10 L339.41,156.10 L338.26,156.11 L337.14,156.13 L336.07,156.16 L335.06,156.21 L334.13,156.28 L333.27,156.38 L332.51,156.50 L331.85,156.64 L331.30,156.82 L330.87,157.03 L330.55,157.28 L330.36,157.56 L330.30,157.88 L330.36,158.23 L330.55,158.62 L330.87,159.04 L331.30,159.49 L331.85,159.98 L332.51,160.50 L333.28,161.05 L334.13,161.63 L335.07,162.22 L336.08,162.84 L337.15,163.48 L338.27,164.13 L339.42,164.79 L340.59,165.45 L341.78,166.12 L342.95,166.78 L344.11,167.44 L345.24,168.10 L346.32,168.73 L347.34,169.36 L348.29,169.96 L349.16,170.54 L349.94,171.09 L350.62,171.62 L351.20,172.11 L351.66,172.58 L351.99,173.01 L352.21,173.40 L352.30,173.76 L352.26,174.08 L352.09,174.37 L351.80,174.62 L351.39,174.84 L350.86,175.02 L350.22,175.18 L349.48,175.30 L348.65,175.40 L347.72,175.47 L346.73,175.53 L345.67,175.56 L344.56,175.58 L343.41,175.60" fill="none" stroke="#d84848" stroke-width="0.8"/>
<line x1="341.30" y1="137.90" x2="336.83" y2="136.64" stroke="#d84848" stroke-width="0.4" opacity="0.8"/>
<line x1="341.30" y1="139.20" x2="333.13" y2="136.90" stroke="#d84848" stroke-width="0.4" opacity="0.8"/>
<line x1="341.30" y1="140.50" x2="330.84" y2="137.55" stroke="#d84848" stroke-width="0.4" opacity="0.8"/>
<line x1="341.30" y1="141.80" x2="330.36" y2="138.72" stroke="#d84848" stroke-width="0.4" opacity="0.8"/>
<line x1="341.30" y1="143.10" x2="331.77" y2="140.42" stroke="#d84848" stroke-width="0.4" opacity="0.8"/>
<line x1="341.30" y1="144.40" x2="334.83" y2="142.58" stroke="#d84848" stroke-width="0.4" opacity="0.8"/>
<line x1="341.30" y1="145.70" x2="339.01" y2="145.06" stroke="#d84848" stroke-width="0.4" opacity="0.8"/>
<line x1="341.30" y1="147.00" x2="343.59" y2="147.64" stroke="#d84848" stroke-width="0.4" opacity="0.8"/>
<line x1="341.30" y1="148.30" x2="347.77" y2="150.12" stroke="#d84848" stroke-width="0.4" opacity="0.8"/>
<line x1="341.30" y1="149.60" x2="350.83" y2="152.28" stroke="#d84848" stroke-width="0.4" opacity="0.8"/>
<line x1="341.30" y1="150.90" x2="352.24" y2="153.98" stroke="#d84848" stroke-width="0.4" opacity="0.8"/>
<line x1="341.30" y1="152.20" x2="351.76" y2="155.15" stroke="#d84848" stroke-width="0.4" opacity="0.8"/>
<line x1="341.30" y1="153.50" x2="349.47" y2="155.80" stroke="#d84848" stroke-width="0.4" opacity="0.8"/>
<line x1="341.30" y1="154.80" x2="345.77" y2="156.06" stroke="#d84848" stroke-width="0.4" opacity="0.8"/>
<line x1="341.30" y1="157.40" x2="336.83" y2="156.14" stroke="#d84848" stroke-width="0.4" opacity="0.8"/>
<line x1="341.30" y1="158.70" x2="333.13" y2="156.40" stroke="#d84848" stroke-width="0.4" opacity="0.8"/>
<line x1="341.30" y1="160.00" x2="330.84" y2="157.05" stroke="#d84848" stroke-width="0.4" opacity="0.8"/>
<line x1="341.30" y1="161.30" x2="330.36" y2="158.22" stroke="#d84848" stroke-width="0.4" opacity="0.8"/>
<line x1="341.30" y1="162.60" x2="331.77" y2="159.92" stroke="#d84848" stroke-width="0.4" opacity="0.8"/>
<line x1="341.30" y1="163.90" x2="334.83" y2="162.08" stroke="#d84848" stroke-width="0.4" opacity="0.8"/>
<line x1="341.30" y1="165.20" x2="339.01" y2="164.56" stroke="#d84848" stroke-width="0.4" opacity="0.8"/>
<line x1="341.30" y1="166.50" x2="343.59" y2="167.14" stroke="#d84848" stroke-width="0.4" opacity="0.8"/>
<line x1="341.30" y1="167.80" x2="347.77" y2="169.62" stroke="#d84848" stroke-width="0.4" opacity="0.8"/>
<line x1="341.30" y1="169.10" x2="350.83" y2="171.78" stroke="#d84848" stroke-width="0.4" opacity="0.8"/>
<line x1="341.30" y1="170.40" x2="352.24" y2="173.48" stroke="#d84848" stroke-width="0.4" opacity="0.8"/>
<line x1="341.30" y1="171.70" x2="351.76" y2="174.65" stroke="#d84848" stroke-width="0.4" opacity="0.8"/>
<line x1="341.30" y1="173.00" x2="349.47" y2="175.30" stroke="#d84848" stroke-width="0.4" opacity="0.8"/>
<line x1="341.30" y1="174.30" x2="345.77" y2="175.56" stroke="#d84848" stroke-width="0.4" opacity="0.8"/>
<line x1="341.70" y1="133.00" x2="341.70" y2="165.00" stroke="#d84848" stroke-width="0.7" />
<polygon points="341.70,130.50 343.00,133.50 340.40,133.50" fill="#d84848" />
<rect x="252.1" y="67.9" width="51.30" height="15.90" rx="4.5" fill="#adb3db"/>
<text x="277.75" y="79.45" font-size="10" fill="#26283e" text-anchor="middle" >Analyzer</text>
<rect x="244" y="136.1" width="67.50" height="26.70" rx="4.5" fill="#adb3db"/>
<text x="277.75" y="147.30" font-size="10" fill="#26283e" text-anchor="middle" >Observation</text>
<text x="277.75" y="157.90" font-size="10" fill="#26283e" text-anchor="middle" >plane</text>
<rect x="252" y="197.3" width="50.90" height="15.70" rx="4.5" fill="#adb3db"/>
<text x="277.45" y="208.75" font-size="10" fill="#26283e" text-anchor="middle" >Polarizer</text>
<line x1="260.70" y1="85.20" x2="251.85" y2="93.01" stroke="#c23a2e" stroke-width="1.45" />
<polygon points="249.60,95.00 251.69,89.82 255.00,93.56" fill="#c23a2e" />
<line x1="294.30" y1="85.20" x2="303.15" y2="93.01" stroke="#c23a2e" stroke-width="1.45" />
<polygon points="305.40,95.00 300.00,93.56 303.31,89.82" fill="#c23a2e" />
<line x1="251.70" y1="134.70" x2="240.42" y2="123.42" stroke="#c23a2e" stroke-width="1.45" />
<polygon points="238.30,121.30 243.60,123.07 240.07,126.60" fill="#c23a2e" />
<line x1="303.70" y1="134.70" x2="314.89" y2="123.43" stroke="#c23a2e" stroke-width="1.45" />
<polygon points="317.00,121.30 315.25,126.61 311.70,123.09" fill="#c23a2e" />
<line x1="255.40" y1="196.00" x2="246.24" y2="188.67" stroke="#c23a2e" stroke-width="1.45" />
<polygon points="243.90,186.80 249.37,187.97 246.24,191.88" fill="#c23a2e" />
<line x1="300.30" y1="196.00" x2="309.18" y2="188.70" stroke="#c23a2e" stroke-width="1.45" />
<polygon points="311.50,186.80 309.22,191.91 306.05,188.04" fill="#c23a2e" />
<text x="213.3" y="238.3" font-size="10" fill="#333" text-anchor="middle" >(b)</text>
<text x="340.5" y="238.3" font-size="10" fill="#333" text-anchor="middle" >(c)</text>
<text x="212.6" y="14.5" font-size="10" fill="#333" text-anchor="middle" >Channel 1</text>
<text x="339.8" y="14.5" font-size="10" fill="#333" text-anchor="middle" >Channel 2</text>
<text x="447.8" y="14.5" font-size="10" fill="#333" text-anchor="middle" >Channel 3</text>
<text x="595.5" y="14.5" font-size="10" fill="#333" text-anchor="middle" >Channel 4</text>
<polygon points="402.00,51.00 495.00,51.00 484.00,93.00 412.00,93.00" fill="url(#ffH)" />
<polygon points="407.60,18.10 490.00,18.10 497.00,50.40 400.10,50.40" fill="url(#obsG)" />
<text x="415" y="36.4" font-size="10.2" fill="#c08478" font-family="Liberation Serif" textLength="65.5" lengthAdjust="spacingAndGlyphs"><tspan font-style="italic">z</tspan>=<tspan font-weight="bold">500</tspan><tspan font-style="italic">μm</tspan></text>
<text x="447.6" y="65.3" font-size="10" fill="#333" text-anchor="middle" >Far-field</text>
<path d="M409,72.5 C412,71.5 416,69.8 420,70.2 C427,71 431,73 436.3,72.9 C442,72.8 445,70.6 449.8,70.8 C455,71 457,73.6 462,73.5 C467,73.4 471,70.8 475.7,70.8 C479,70.8 482,72 487,72.4 L486,82.2 C483,82.4 482,82.4 481,82.4 C474,82.6 468,80.8 463.4,81 C459,81.2 457,83.8 453.9,83.7 C448,83.6 443,80.3 437.6,80.3 C432,80.3 428,81.4 425.4,81.7 C421,82.2 419,83.7 416,83.7 L410,83.5 Z" fill="#fff"/>
<path d="M412.5,71.5 C415,70.6 417,70 420,70.2 C427,71 431,73 436.3,72.9 C442,72.8 445,70.6 449.8,70.8 C455,71 457,73.6 462,73.5 C467,73.4 471,70.8 475.7,70.8 C479,70.8 481,71.8 483.8,72.6" fill="none" stroke="#b89290" stroke-width="0.6"/>
<path d="M417.2,83.7 C420,83 422,82 425.4,81.7 C428,81.4 432,80.3 437.6,80.3 C443,80.3 448,83.6 453.9,83.7 C457,83.8 459,81.2 463.4,81 C468,80.8 474,82.6 481,82.4" fill="none" stroke="#b89290" stroke-width="0.6"/>
<path d="M425.5,73.5 c1.2,1.5 -1.2,3 0,4.5 c1,1.2 0,2.2 0.6,3.2" fill="none" stroke="#8a8a8a" stroke-width="0.55"/>
<path d="M449.5,73.5 c1.2,1.5 -1.2,3 0,4.5 c1,1.2 0,2.2 0.6,3.2" fill="none" stroke="#8a8a8a" stroke-width="0.55"/>
<path d="M474.5,73.8 c1.2,1.5 -1.2,3 0,4.5 c1,1.2 0,2.2 0.6,3.2" fill="none" stroke="#8a8a8a" stroke-width="0.55"/>
<polygon points="569.60,61.10 621.90,61.10 625.00,85.20 566.70,85.20" fill="#6a5552" />
<rect x="569" y="61.6" width="54" height="22.6" fill="#7a5650" opacity="0.5"/>
<g fill="#ee9585"><rect x="571.04" y="62.40" width="2.05" height="1.9"/><rect x="576.75" y="62.40" width="2.05" height="1.9"/><rect x="582.45" y="62.40" width="2.05" height="1.9"/><rect x="590.05" y="62.40" width="5.85" height="1.9"/><rect x="599.56" y="62.40" width="2.05" height="1.9"/><rect x="609.06" y="62.40" width="3.95" height="1.9"/><rect x="614.76" y="62.40" width="5.85" height="1.9"/><rect x="570.83" y="64.18" width="2.07" height="1.9"/><rect x="574.67" y="64.18" width="2.07" height="1.9"/><rect x="582.34" y="64.18" width="2.07" height="1.9"/><rect x="586.17" y="64.18" width="3.99" height="1.9"/><rect x="597.68" y="64.18" width="7.82" height="1.9"/><rect x="607.27" y="64.18" width="2.07" height="1.9"/><rect x="611.11" y="64.18" width="2.07" height="1.9"/><rect x="616.86" y="64.18" width="3.99" height="1.9"/><rect x="572.55" y="65.96" width="2.08" height="1.9"/><rect x="576.42" y="65.96" width="4.02" height="1.9"/><rect x="584.16" y="65.96" width="5.95" height="1.9"/><rect x="593.84" y="65.96" width="7.89" height="1.9"/><rect x="603.51" y="65.96" width="2.08" height="1.9"/><rect x="607.38" y="65.96" width="4.02" height="1.9"/><rect x="613.19" y="65.96" width="2.08" height="1.9"/><rect x="617.06" y="65.96" width="4.02" height="1.9"/><rect x="570.40" y="67.74" width="4.05" height="1.9"/><rect x="578.21" y="67.74" width="2.10" height="1.9"/><rect x="582.11" y="67.74" width="4.05" height="1.9"/><rect x="589.92" y="67.74" width="2.10" height="1.9"/><rect x="593.83" y="67.74" width="4.05" height="1.9"/><rect x="599.68" y="67.74" width="7.96" height="1.9"/><rect x="609.44" y="67.74" width="2.10" height="1.9"/><rect x="613.35" y="67.74" width="2.10" height="1.9"/><rect x="619.20" y="67.74" width="2.10" height="1.9"/><rect x="574.12" y="69.52" width="4.09" height="1.9"/><rect x="582.00" y="69.52" width="4.09" height="1.9"/><rect x="589.88" y="69.52" width="2.12" height="1.9"/><rect x="597.75" y="69.52" width="6.06" height="1.9"/><rect x="605.63" y="69.52" width="2.12" height="1.9"/><rect x="609.57" y="69.52" width="2.12" height="1.9"/><rect x="615.48" y="69.52" width="4.09" height="1.9"/><rect x="569.97" y="71.30" width="4.12" height="1.9"/><rect x="579.90" y="71.30" width="2.14" height="1.9"/><rect x="583.88" y="71.30" width="14.05" height="1.9"/><rect x="599.76" y="71.30" width="4.12" height="1.9"/><rect x="613.67" y="71.30" width="6.11" height="1.9"/><rect x="573.76" y="73.08" width="2.15" height="1.9"/><rect x="577.77" y="73.08" width="2.15" height="1.9"/><rect x="581.78" y="73.08" width="2.15" height="1.9"/><rect x="585.78" y="73.08" width="2.15" height="1.9"/><rect x="601.81" y="73.08" width="2.15" height="1.9"/><rect x="609.82" y="73.08" width="2.15" height="1.9"/><rect x="619.84" y="73.08" width="2.15" height="1.9"/><rect x="573.58" y="74.86" width="2.17" height="1.9"/><rect x="583.69" y="74.86" width="2.17" height="1.9"/><rect x="589.75" y="74.86" width="2.17" height="1.9"/><rect x="593.79" y="74.86" width="2.17" height="1.9"/><rect x="597.83" y="74.86" width="2.17" height="1.9"/><rect x="601.87" y="74.86" width="4.19" height="1.9"/><rect x="607.93" y="74.86" width="2.17" height="1.9"/><rect x="613.99" y="74.86" width="6.21" height="1.9"/><rect x="569.33" y="76.64" width="4.22" height="1.9"/><rect x="577.48" y="76.64" width="2.19" height="1.9"/><rect x="581.55" y="76.64" width="2.19" height="1.9"/><rect x="585.63" y="76.64" width="4.22" height="1.9"/><rect x="595.81" y="76.64" width="2.19" height="1.9"/><rect x="599.89" y="76.64" width="4.22" height="1.9"/><rect x="614.15" y="76.64" width="4.22" height="1.9"/><rect x="620.26" y="76.64" width="2.19" height="1.9"/><rect x="569.12" y="78.42" width="4.26" height="1.9"/><rect x="575.28" y="78.42" width="4.26" height="1.9"/><rect x="583.50" y="78.42" width="6.31" height="1.9"/><rect x="591.71" y="78.42" width="2.20" height="1.9"/><rect x="597.88" y="78.42" width="2.20" height="1.9"/><rect x="601.98" y="78.42" width="4.26" height="1.9"/><rect x="608.15" y="78.42" width="2.20" height="1.9"/><rect x="612.26" y="78.42" width="6.31" height="1.9"/><rect x="620.47" y="78.42" width="2.20" height="1.9"/><rect x="579.26" y="80.20" width="2.22" height="1.9"/><rect x="583.40" y="80.20" width="4.29" height="1.9"/><rect x="591.69" y="80.20" width="6.36" height="1.9"/><rect x="606.19" y="80.20" width="2.22" height="1.9"/><rect x="612.40" y="80.20" width="2.22" height="1.9"/><rect x="618.61" y="80.20" width="2.22" height="1.9"/><rect x="572.86" y="81.98" width="2.24" height="1.9"/><rect x="583.31" y="81.98" width="2.24" height="1.9"/><rect x="587.48" y="81.98" width="2.24" height="1.9"/><rect x="597.93" y="81.98" width="2.24" height="1.9"/><rect x="610.46" y="81.98" width="2.24" height="1.9"/><rect x="616.72" y="81.98" width="6.42" height="1.9"/></g>
<rect x="570.5" y="62.2" width="3.6" height="2.4" fill="#f0a090"/>
<rect x="617.2" y="62.2" width="3.6" height="2.4" fill="#f0a090"/>
<rect x="568.2" y="80.6" width="3.6" height="2.4" fill="#f0a090"/>
<rect x="574" y="85" width="44" height="8" rx="0" fill="url(#beamH)" mask="url(#mDown)" opacity="0.6"/>
<polygon points="418.20,92.00 478.80,92.00 482.70,125.60 414.30,125.60" fill="#6c6366" />
<rect x="414.3" y="125.6" width="68.4" height="3.4" fill="#c9bcbc"/>
<line x1="418.30" y1="127.30" x2="478.70" y2="127.30" stroke="#b07080" stroke-width="0.9" stroke-dasharray="1 1.7"/>
<rect x="426.5" y="92" width="44" height="36.99999999999999" fill="url(#metaGlow)"/>
<g><rect x="429.75" y="94.50" width="1.1" height="1.5" fill="#f0a0b0"/><rect x="429.75" y="96.85" width="1.1" height="1.5" fill="#e08aa8"/><rect x="429.75" y="99.20" width="1.1" height="1.5" fill="#c47aac"/><rect x="429.75" y="101.55" width="1.1" height="1.5" fill="#a06ab0"/><rect x="429.75" y="103.90" width="1.1" height="1.5" fill="#7c5aa8"/><rect x="429.75" y="106.25" width="1.1" height="1.5" fill="#5c4c9c"/><rect x="429.55" y="108.60" width="1.5" height="1.5" fill="#40408a"/><rect x="429.55" y="110.95" width="1.5" height="1.5" fill="#2c3274"/><rect x="429.55" y="113.30" width="1.5" height="1.5" fill="#1e245c"/><rect x="429.55" y="115.65" width="1.5" height="2.6" fill="#141838"/><rect x="433.80" y="94.50" width="1.1" height="1.5" fill="#f0a0b0"/><rect x="433.80" y="96.85" width="1.1" height="1.5" fill="#e08aa8"/><rect x="433.80" y="99.20" width="1.1" height="1.5" fill="#c47aac"/><rect x="433.80" y="101.55" width="1.1" height="1.5" fill="#a06ab0"/><rect x="433.80" y="103.90" width="1.1" height="1.5" fill="#7c5aa8"/><rect x="433.80" y="106.25" width="1.1" height="1.5" fill="#5c4c9c"/><rect x="433.60" y="108.60" width="1.5" height="1.5" fill="#40408a"/><rect x="433.60" y="110.95" width="1.5" height="1.5" fill="#2c3274"/><rect x="433.60" y="113.30" width="1.5" height="1.5" fill="#1e245c"/><rect x="433.60" y="115.65" width="1.5" height="2.6" fill="#141838"/><rect x="437.85" y="94.50" width="1.1" height="1.5" fill="#f0a0b0"/><rect x="437.85" y="96.85" width="1.1" height="1.5" fill="#e08aa8"/><rect x="437.85" y="99.20" width="1.1" height="1.5" fill="#c47aac"/><rect x="437.85" y="101.55" width="1.1" height="1.5" fill="#a06ab0"/><rect x="437.85" y="103.90" width="1.1" height="1.5" fill="#7c5aa8"/><rect x="437.85" y="106.25" width="1.1" height="1.5" fill="#5c4c9c"/><rect x="437.65" y="108.60" width="1.5" height="1.5" fill="#40408a"/><rect x="437.65" y="110.95" width="1.5" height="1.5" fill="#2c3274"/><rect x="437.65" y="113.30" width="1.5" height="1.5" fill="#1e245c"/><rect x="437.65" y="115.65" width="1.5" height="2.6" fill="#141838"/><rect x="441.90" y="94.50" width="1.1" height="1.5" fill="#f0a0b0"/><rect x="441.90" y="96.85" width="1.1" height="1.5" fill="#e08aa8"/><rect x="441.90" y="99.20" width="1.1" height="1.5" fill="#c47aac"/><rect x="441.90" y="101.55" width="1.1" height="1.5" fill="#a06ab0"/><rect x="441.90" y="103.90" width="1.1" height="1.5" fill="#7c5aa8"/><rect x="441.90" y="106.25" width="1.1" height="1.5" fill="#5c4c9c"/><rect x="441.70" y="108.60" width="1.5" height="1.5" fill="#40408a"/><rect x="441.70" y="110.95" width="1.5" height="1.5" fill="#2c3274"/><rect x="441.70" y="113.30" width="1.5" height="1.5" fill="#1e245c"/><rect x="441.70" y="115.65" width="1.5" height="2.6" fill="#141838"/><rect x="445.95" y="94.50" width="1.1" height="1.5" fill="#f0a0b0"/><rect x="445.95" y="96.85" width="1.1" height="1.5" fill="#e08aa8"/><rect x="445.95" y="99.20" width="1.1" height="1.5" fill="#c47aac"/><rect x="445.95" y="101.55" width="1.1" height="1.5" fill="#a06ab0"/><rect x="445.95" y="103.90" width="1.1" height="1.5" fill="#7c5aa8"/><rect x="445.95" y="106.25" width="1.1" height="1.5" fill="#5c4c9c"/><rect x="445.75" y="108.60" width="1.5" height="1.5" fill="#40408a"/><rect x="445.75" y="110.95" width="1.5" height="1.5" fill="#2c3274"/><rect x="445.75" y="113.30" width="1.5" height="1.5" fill="#1e245c"/><rect x="445.75" y="115.65" width="1.5" height="2.6" fill="#141838"/><rect x="450.00" y="94.50" width="1.1" height="1.5" fill="#f0a0b0"/><rect x="450.00" y="96.85" width="1.1" height="1.5" fill="#e08aa8"/><rect x="450.00" y="99.20" width="1.1" height="1.5" fill="#c47aac"/><rect x="450.00" y="101.55" width="1.1" height="1.5" fill="#a06ab0"/><rect x="450.00" y="103.90" width="1.1" height="1.5" fill="#7c5aa8"/><rect x="450.00" y="106.25" width="1.1" height="1.5" fill="#5c4c9c"/><rect x="449.80" y="108.60" width="1.5" height="1.5" fill="#40408a"/><rect x="449.80" y="110.95" width="1.5" height="1.5" fill="#2c3274"/><rect x="449.80" y="113.30" width="1.5" height="1.5" fill="#1e245c"/><rect x="449.80" y="115.65" width="1.5" height="2.6" fill="#141838"/><rect x="454.05" y="94.50" width="1.1" height="1.5" fill="#f0a0b0"/><rect x="454.05" y="96.85" width="1.1" height="1.5" fill="#e08aa8"/><rect x="454.05" y="99.20" width="1.1" height="1.5" fill="#c47aac"/><rect x="454.05" y="101.55" width="1.1" height="1.5" fill="#a06ab0"/><rect x="454.05" y="103.90" width="1.1" height="1.5" fill="#7c5aa8"/><rect x="454.05" y="106.25" width="1.1" height="1.5" fill="#5c4c9c"/><rect x="453.85" y="108.60" width="1.5" height="1.5" fill="#40408a"/><rect x="453.85" y="110.95" width="1.5" height="1.5" fill="#2c3274"/><rect x="453.85" y="113.30" width="1.5" height="1.5" fill="#1e245c"/><rect x="453.85" y="115.65" width="1.5" height="2.6" fill="#141838"/><rect x="458.10" y="94.50" width="1.1" height="1.5" fill="#f0a0b0"/><rect x="458.10" y="96.85" width="1.1" height="1.5" fill="#e08aa8"/><rect x="458.10" y="99.20" width="1.1" height="1.5" fill="#c47aac"/><rect x="458.10" y="101.55" width="1.1" height="1.5" fill="#a06ab0"/><rect x="458.10" y="103.90" width="1.1" height="1.5" fill="#7c5aa8"/><rect x="458.10" y="106.25" width="1.1" height="1.5" fill="#5c4c9c"/><rect x="457.90" y="108.60" width="1.5" height="1.5" fill="#40408a"/><rect x="457.90" y="110.95" width="1.5" height="1.5" fill="#2c3274"/><rect x="457.90" y="113.30" width="1.5" height="1.5" fill="#1e245c"/><rect x="457.90" y="115.65" width="1.5" height="2.6" fill="#141838"/><rect x="462.15" y="94.50" width="1.1" height="1.5" fill="#f0a0b0"/><rect x="462.15" y="96.85" width="1.1" height="1.5" fill="#e08aa8"/><rect x="462.15" y="99.20" width="1.1" height="1.5" fill="#c47aac"/><rect x="462.15" y="101.55" width="1.1" height="1.5" fill="#a06ab0"/><rect x="462.15" y="103.90" width="1.1" height="1.5" fill="#7c5aa8"/><rect x="462.15" y="106.25" width="1.1" height="1.5" fill="#5c4c9c"/><rect x="461.95" y="108.60" width="1.5" height="1.5" fill="#40408a"/><rect x="461.95" y="110.95" width="1.5" height="1.5" fill="#2c3274"/><rect x="461.95" y="113.30" width="1.5" height="1.5" fill="#1e245c"/><rect x="461.95" y="115.65" width="1.5" height="2.6" fill="#141838"/><rect x="466.20" y="94.50" width="1.1" height="1.5" fill="#f0a0b0"/><rect x="466.20" y="96.85" width="1.1" height="1.5" fill="#e08aa8"/><rect x="466.20" y="99.20" width="1.1" height="1.5" fill="#c47aac"/><rect x="466.20" y="101.55" width="1.1" height="1.5" fill="#a06ab0"/><rect x="466.20" y="103.90" width="1.1" height="1.5" fill="#7c5aa8"/><rect x="466.20" y="106.25" width="1.1" height="1.5" fill="#5c4c9c"/><rect x="466.00" y="108.60" width="1.5" height="1.5" fill="#40408a"/><rect x="466.00" y="110.95" width="1.5" height="1.5" fill="#2c3274"/><rect x="466.00" y="113.30" width="1.5" height="1.5" fill="#1e245c"/><rect x="466.00" y="115.65" width="1.5" height="2.6" fill="#141838"/></g>
<polygon points="567.90,92.50 624.10,92.50 631.00,126.00 561.00,126.00" fill="#6c6366" />
<rect x="561" y="126" width="70" height="3.4" fill="#c9bcbc"/>
<line x1="565.00" y1="127.70" x2="627.00" y2="127.70" stroke="#b07080" stroke-width="0.9" stroke-dasharray="1 1.7"/>
<rect x="574" y="92.5" width="44" height="36.9" fill="url(#metaGlow)"/>
<g><rect x="577.25" y="95.00" width="1.1" height="1.5" fill="#f0a0b0"/><rect x="577.25" y="97.35" width="1.1" height="1.5" fill="#e08aa8"/><rect x="577.25" y="99.70" width="1.1" height="1.5" fill="#c47aac"/><rect x="577.25" y="102.05" width="1.1" height="1.5" fill="#a06ab0"/><rect x="577.25" y="104.40" width="1.1" height="1.5" fill="#7c5aa8"/><rect x="577.25" y="106.75" width="1.1" height="1.5" fill="#5c4c9c"/><rect x="577.05" y="109.10" width="1.5" height="1.5" fill="#40408a"/><rect x="577.05" y="111.45" width="1.5" height="1.5" fill="#2c3274"/><rect x="577.05" y="113.80" width="1.5" height="1.5" fill="#1e245c"/><rect x="577.05" y="116.15" width="1.5" height="2.6" fill="#141838"/><rect x="581.30" y="95.00" width="1.1" height="1.5" fill="#f0a0b0"/><rect x="581.30" y="97.35" width="1.1" height="1.5" fill="#e08aa8"/><rect x="581.30" y="99.70" width="1.1" height="1.5" fill="#c47aac"/><rect x="581.30" y="102.05" width="1.1" height="1.5" fill="#a06ab0"/><rect x="581.30" y="104.40" width="1.1" height="1.5" fill="#7c5aa8"/><rect x="581.30" y="106.75" width="1.1" height="1.5" fill="#5c4c9c"/><rect x="581.10" y="109.10" width="1.5" height="1.5" fill="#40408a"/><rect x="581.10" y="111.45" width="1.5" height="1.5" fill="#2c3274"/><rect x="581.10" y="113.80" width="1.5" height="1.5" fill="#1e245c"/><rect x="581.10" y="116.15" width="1.5" height="2.6" fill="#141838"/><rect x="585.35" y="95.00" width="1.1" height="1.5" fill="#f0a0b0"/><rect x="585.35" y="97.35" width="1.1" height="1.5" fill="#e08aa8"/><rect x="585.35" y="99.70" width="1.1" height="1.5" fill="#c47aac"/><rect x="585.35" y="102.05" width="1.1" height="1.5" fill="#a06ab0"/><rect x="585.35" y="104.40" width="1.1" height="1.5" fill="#7c5aa8"/><rect x="585.35" y="106.75" width="1.1" height="1.5" fill="#5c4c9c"/><rect x="585.15" y="109.10" width="1.5" height="1.5" fill="#40408a"/><rect x="585.15" y="111.45" width="1.5" height="1.5" fill="#2c3274"/><rect x="585.15" y="113.80" width="1.5" height="1.5" fill="#1e245c"/><rect x="585.15" y="116.15" width="1.5" height="2.6" fill="#141838"/><rect x="589.40" y="95.00" width="1.1" height="1.5" fill="#f0a0b0"/><rect x="589.40" y="97.35" width="1.1" height="1.5" fill="#e08aa8"/><rect x="589.40" y="99.70" width="1.1" height="1.5" fill="#c47aac"/><rect x="589.40" y="102.05" width="1.1" height="1.5" fill="#a06ab0"/><rect x="589.40" y="104.40" width="1.1" height="1.5" fill="#7c5aa8"/><rect x="589.40" y="106.75" width="1.1" height="1.5" fill="#5c4c9c"/><rect x="589.20" y="109.10" width="1.5" height="1.5" fill="#40408a"/><rect x="589.20" y="111.45" width="1.5" height="1.5" fill="#2c3274"/><rect x="589.20" y="113.80" width="1.5" height="1.5" fill="#1e245c"/><rect x="589.20" y="116.15" width="1.5" height="2.6" fill="#141838"/><rect x="593.45" y="95.00" width="1.1" height="1.5" fill="#f0a0b0"/><rect x="593.45" y="97.35" width="1.1" height="1.5" fill="#e08aa8"/><rect x="593.45" y="99.70" width="1.1" height="1.5" fill="#c47aac"/><rect x="593.45" y="102.05" width="1.1" height="1.5" fill="#a06ab0"/><rect x="593.45" y="104.40" width="1.1" height="1.5" fill="#7c5aa8"/><rect x="593.45" y="106.75" width="1.1" height="1.5" fill="#5c4c9c"/><rect x="593.25" y="109.10" width="1.5" height="1.5" fill="#40408a"/><rect x="593.25" y="111.45" width="1.5" height="1.5" fill="#2c3274"/><rect x="593.25" y="113.80" width="1.5" height="1.5" fill="#1e245c"/><rect x="593.25" y="116.15" width="1.5" height="2.6" fill="#141838"/><rect x="597.50" y="95.00" width="1.1" height="1.5" fill="#f0a0b0"/><rect x="597.50" y="97.35" width="1.1" height="1.5" fill="#e08aa8"/><rect x="597.50" y="99.70" width="1.1" height="1.5" fill="#c47aac"/><rect x="597.50" y="102.05" width="1.1" height="1.5" fill="#a06ab0"/><rect x="597.50" y="104.40" width="1.1" height="1.5" fill="#7c5aa8"/><rect x="597.50" y="106.75" width="1.1" height="1.5" fill="#5c4c9c"/><rect x="597.30" y="109.10" width="1.5" height="1.5" fill="#40408a"/><rect x="597.30" y="111.45" width="1.5" height="1.5" fill="#2c3274"/><rect x="597.30" y="113.80" width="1.5" height="1.5" fill="#1e245c"/><rect x="597.30" y="116.15" width="1.5" height="2.6" fill="#141838"/><rect x="601.55" y="95.00" width="1.1" height="1.5" fill="#f0a0b0"/><rect x="601.55" y="97.35" width="1.1" height="1.5" fill="#e08aa8"/><rect x="601.55" y="99.70" width="1.1" height="1.5" fill="#c47aac"/><rect x="601.55" y="102.05" width="1.1" height="1.5" fill="#a06ab0"/><rect x="601.55" y="104.40" width="1.1" height="1.5" fill="#7c5aa8"/><rect x="601.55" y="106.75" width="1.1" height="1.5" fill="#5c4c9c"/><rect x="601.35" y="109.10" width="1.5" height="1.5" fill="#40408a"/><rect x="601.35" y="111.45" width="1.5" height="1.5" fill="#2c3274"/><rect x="601.35" y="113.80" width="1.5" height="1.5" fill="#1e245c"/><rect x="601.35" y="116.15" width="1.5" height="2.6" fill="#141838"/><rect x="605.60" y="95.00" width="1.1" height="1.5" fill="#f0a0b0"/><rect x="605.60" y="97.35" width="1.1" height="1.5" fill="#e08aa8"/><rect x="605.60" y="99.70" width="1.1" height="1.5" fill="#c47aac"/><rect x="605.60" y="102.05" width="1.1" height="1.5" fill="#a06ab0"/><rect x="605.60" y="104.40" width="1.1" height="1.5" fill="#7c5aa8"/><rect x="605.60" y="106.75" width="1.1" height="1.5" fill="#5c4c9c"/><rect x="605.40" y="109.10" width="1.5" height="1.5" fill="#40408a"/><rect x="605.40" y="111.45" width="1.5" height="1.5" fill="#2c3274"/><rect x="605.40" y="113.80" width="1.5" height="1.5" fill="#1e245c"/><rect x="605.40" y="116.15" width="1.5" height="2.6" fill="#141838"/><rect x="609.65" y="95.00" width="1.1" height="1.5" fill="#f0a0b0"/><rect x="609.65" y="97.35" width="1.1" height="1.5" fill="#e08aa8"/><rect x="609.65" y="99.70" width="1.1" height="1.5" fill="#c47aac"/><rect x="609.65" y="102.05" width="1.1" height="1.5" fill="#a06ab0"/><rect x="609.65" y="104.40" width="1.1" height="1.5" fill="#7c5aa8"/><rect x="609.65" y="106.75" width="1.1" height="1.5" fill="#5c4c9c"/><rect x="609.45" y="109.10" width="1.5" height="1.5" fill="#40408a"/><rect x="609.45" y="111.45" width="1.5" height="1.5" fill="#2c3274"/><rect x="609.45" y="113.80" width="1.5" height="1.5" fill="#1e245c"/><rect x="609.45" y="116.15" width="1.5" height="2.6" fill="#141838"/><rect x="613.70" y="95.00" width="1.1" height="1.5" fill="#f0a0b0"/><rect x="613.70" y="97.35" width="1.1" height="1.5" fill="#e08aa8"/><rect x="613.70" y="99.70" width="1.1" height="1.5" fill="#c47aac"/><rect x="613.70" y="102.05" width="1.1" height="1.5" fill="#a06ab0"/><rect x="613.70" y="104.40" width="1.1" height="1.5" fill="#7c5aa8"/><rect x="613.70" y="106.75" width="1.1" height="1.5" fill="#5c4c9c"/><rect x="613.50" y="109.10" width="1.5" height="1.5" fill="#40408a"/><rect x="613.50" y="111.45" width="1.5" height="1.5" fill="#2c3274"/><rect x="613.50" y="113.80" width="1.5" height="1.5" fill="#1e245c"/><rect x="613.50" y="116.15" width="1.5" height="2.6" fill="#141838"/></g>
<line x1="624.00" y1="85.30" x2="636.00" y2="85.30" stroke="#222" stroke-width="0.8" />
<line x1="624.00" y1="126.30" x2="636.00" y2="126.30" stroke="#222" stroke-width="0.8" />
<line x1="628.00" y1="86.00" x2="628.00" y2="126.00" stroke="#222" stroke-width="0.8" />
<polygon points="628.00,126.00 626.70,123.00 629.30,123.00" fill="#222" />
<polygon points="628.00,86.00 629.30,89.00 626.70,89.00" fill="#222" />
<text x="629.8" y="108.7" font-size="8.5" fill="#333" text-anchor="start" font-style="italic">z</text>
<rect x="427.8" y="128" width="41.0" height="24" rx="0" fill="url(#bMid)" opacity="1"/>
<rect x="428.3" y="200" width="40.0" height="28" rx="8" fill="url(#bBot)" mask="url(#mBot2)" opacity="1"/>
<ellipse cx="448.3" cy="194.5" rx="30.5" ry="11.5" fill="#0b0909"/>
<rect x="417.8" y="182" width="61" height="12.5" fill="#0b0909"/>
<ellipse cx="448.8" cy="190" rx="25.3" ry="7.3" fill="url(#polWin)"/>
<path d="M416.8,183 L416.8,164 A31.5,18 0 0 1 479.8,164 L479.8,183 A31.5,5 0 0 1 416.8,183 Z" fill="#0b0909"/>
<path d="M428.3,152 A20,6 0 0 1 468.3,152 L468.3,179 A20,4 0 0 1 428.3,179 Z" fill="url(#colH)"/>
<path d="M428.3,152 A20,6 0 0 1 468.3,152 L468.3,179 A20,4 0 0 1 428.3,179 Z" fill="url(#colV)"/>
<line x1="416.80" y1="181.50" x2="420.80" y2="181.50" stroke="#777" stroke-width="0.9" />
<line x1="475.80" y1="181.50" x2="479.80" y2="181.50" stroke="#777" stroke-width="0.9" />
<line x1="423.30" y1="178.50" x2="427.30" y2="176.50" stroke="#e06a6a" stroke-width="0.9" />
<line x1="468.30" y1="176.50" x2="472.30" y2="178.50" stroke="#70d8e0" stroke-width="0.9" />
<line x1="424.30" y1="150.50" x2="427.80" y2="152.00" stroke="#b8d0e8" stroke-width="0.8" />
<line x1="468.80" y1="152.00" x2="472.30" y2="150.50" stroke="#e08080" stroke-width="0.8" />
<line x1="448.30" y1="129.50" x2="448.30" y2="147.00" stroke="#e46464" stroke-width="0.8" />
<g stroke="#e46464" stroke-width="0.6" opacity="0.9"><line x1="448.30" y1="124.95" x2="450.90" y2="120.84"/><line x1="448.30" y1="126.07" x2="446.53" y2="121.92"/><line x1="448.30" y1="127.20" x2="442.38" y2="123.50"/><line x1="448.30" y1="128.32" x2="438.95" y2="125.54"/><line x1="448.30" y1="129.45" x2="436.67" y2="127.91"/><line x1="448.30" y1="130.57" x2="435.80" y2="130.48"/><line x1="448.30" y1="131.70" x2="436.47" y2="133.05"/><line x1="448.30" y1="132.82" x2="438.58" y2="135.46"/><line x1="448.30" y1="133.95" x2="441.88" y2="137.55"/><line x1="448.30" y1="135.07" x2="445.96" y2="139.20"/><line x1="448.30" y1="136.20" x2="450.33" y2="140.34"/><line x1="448.30" y1="137.32" x2="454.45" y2="140.98"/><line x1="448.30" y1="138.44" x2="457.82" y2="141.17"/><line x1="448.30" y1="139.57" x2="460.03" y2="141.02"/><line x1="448.30" y1="140.69" x2="460.80" y2="140.70"/><line x1="448.30" y1="141.82" x2="460.04" y2="140.38"/><line x1="448.30" y1="142.94" x2="457.85" y2="140.23"/><line x1="448.30" y1="144.07" x2="454.49" y2="140.42"/><line x1="448.30" y1="145.19" x2="450.38" y2="141.05"/><line x1="448.30" y1="146.32" x2="446.01" y2="142.19"/><line x1="448.30" y1="147.44" x2="441.92" y2="143.83"/><line x1="448.30" y1="148.57" x2="438.61" y2="145.91"/><line x1="448.30" y1="149.69" x2="436.48" y2="148.32"/><line x1="448.30" y1="150.81" x2="435.80" y2="150.90"/><line x1="448.30" y1="151.94" x2="436.65" y2="153.46"/><line x1="448.30" y1="153.06" x2="438.92" y2="155.84"/><line x1="448.30" y1="154.19" x2="442.34" y2="157.88"/><line x1="448.30" y1="155.31" x2="446.48" y2="159.47"/><line x1="448.30" y1="156.44" x2="450.85" y2="160.55"/><line x1="448.30" y1="157.56" x2="454.91" y2="161.13"/><line x1="448.30" y1="158.69" x2="458.16" y2="161.27"/><line x1="448.30" y1="159.81" x2="460.20" y2="161.10"/></g>
<path d="M452.59,120.55 L451.75,120.69 L450.90,120.84 L450.03,121.02 L449.16,121.21 L448.28,121.42 L447.40,121.66 L446.53,121.92 L445.67,122.19 L444.81,122.49 L443.98,122.81 L443.17,123.14 L442.38,123.50 L441.62,123.87 L440.90,124.26 L440.21,124.67 L439.56,125.10 L438.95,125.54 L438.39,125.99 L437.88,126.45 L437.42,126.93 L437.02,127.42 L436.67,127.91 L436.37,128.41 L436.14,128.92 L435.97,129.44 L435.85,129.96 L435.80,130.48 L435.81,131.00 L435.89,131.51 L436.02,132.03 L436.21,132.54 L436.47,133.05 L436.78,133.55 L437.15,134.04 L437.57,134.53 L438.05,135.00 L438.58,135.46 L439.15,135.91 L439.78,136.34 L440.44,136.76 L441.14,137.16 L441.88,137.55 L442.65,137.92 L443.44,138.27 L444.26,138.60 L445.10,138.91 L445.96,139.20 L446.83,139.47 L447.70,139.72 L448.58,139.94 L449.46,140.15 L450.33,140.34 L451.19,140.51 L452.04,140.65 L452.87,140.78 L453.67,140.89 L454.45,140.98 L455.20,141.05 L455.92,141.10 L456.59,141.14 L457.23,141.16 L457.82,141.17 L458.37,141.16 L458.86,141.14 L459.31,141.11 L459.70,141.07 L460.03,141.02 L460.30,140.97 L460.52,140.91 L460.67,140.84 L460.77,140.77 L460.80,140.70 L460.77,140.63 L460.68,140.56 L460.53,140.50 L460.32,140.44 L460.04,140.38 L459.71,140.33 L459.33,140.29 L458.89,140.26 L458.40,140.24 L457.85,140.23 L457.26,140.24 L456.63,140.26 L455.95,140.30 L455.24,140.35 L454.49,140.42 L453.72,140.51 L452.91,140.61 L452.08,140.74 L451.24,140.88 L450.38,141.05 L449.51,141.24 L448.63,141.44 L447.75,141.67 L446.88,141.92 L446.01,142.19 L445.15,142.48 L444.31,142.79 L443.49,143.12 L442.69,143.46 L441.92,143.83 L441.18,144.21 L440.47,144.62 L439.81,145.03 L439.19,145.47 L438.61,145.91 L438.08,146.37 L437.60,146.85 L437.17,147.33 L436.80,147.82 L436.48,148.32 L436.23,148.83 L436.03,149.34 L435.89,149.86 L435.82,150.38 L435.80,150.90 L435.85,151.42 L435.96,151.93 L436.13,152.45 L436.36,152.96 L436.65,153.46 L437.00,153.96 L437.40,154.44 L437.86,154.92 L438.36,155.39 L438.92,155.84 L439.52,156.28 L440.17,156.70 L440.86,157.11 L441.58,157.51 L442.34,157.88 L443.12,158.24 L443.94,158.57 L444.77,158.89 L445.62,159.19 L446.48,159.47 L447.36,159.73 L448.24,159.96 L449.11,160.18 L449.99,160.37 L450.85,160.55 L451.71,160.70 L452.54,160.84 L453.36,160.95 L454.15,161.05 L454.91,161.13 L455.64,161.19 L456.33,161.23 L456.98,161.26 L457.59,161.27 L458.16,161.27 L458.67,161.26 L459.14,161.23 L459.55,161.19 L459.90,161.15 L460.20,161.10 L460.44,161.04 L460.62,160.97 L460.74,160.91" fill="none" stroke="#e46464" stroke-width="1.05"/>
<rect x="575.5" y="128" width="41.0" height="24" rx="0" fill="url(#bMid)" opacity="1"/>
<rect x="576" y="200" width="40" height="28" rx="8" fill="url(#bBot)" mask="url(#mBot2)" opacity="1"/>
<ellipse cx="596" cy="194.5" rx="30.5" ry="11.5" fill="#0b0909"/>
<rect x="565.5" y="182" width="61" height="12.5" fill="#0b0909"/>
<ellipse cx="596.5" cy="190" rx="25.3" ry="7.3" fill="url(#polWin)"/>
<path d="M564.5,183 L564.5,164 A31.5,18 0 0 1 627.5,164 L627.5,183 A31.5,5 0 0 1 564.5,183 Z" fill="#0b0909"/>
<path d="M576,152 A20,6 0 0 1 616,152 L616,179 A20,4 0 0 1 576,179 Z" fill="url(#colH)"/>
<path d="M576,152 A20,6 0 0 1 616,152 L616,179 A20,4 0 0 1 576,179 Z" fill="url(#colV)"/>
<line x1="564.50" y1="181.50" x2="568.50" y2="181.50" stroke="#777" stroke-width="0.9" />
<line x1="623.50" y1="181.50" x2="627.50" y2="181.50" stroke="#777" stroke-width="0.9" />
<line x1="571.00" y1="178.50" x2="575.00" y2="176.50" stroke="#e06a6a" stroke-width="0.9" />
<line x1="616.00" y1="176.50" x2="620.00" y2="178.50" stroke="#70d8e0" stroke-width="0.9" />
<line x1="572.00" y1="150.50" x2="575.50" y2="152.00" stroke="#b8d0e8" stroke-width="0.8" />
<line x1="616.50" y1="152.00" x2="620.00" y2="150.50" stroke="#e08080" stroke-width="0.8" />
<line x1="596.00" y1="129.50" x2="596.00" y2="147.00" stroke="#e46464" stroke-width="0.8" />
<g stroke="#e46464" stroke-width="0.6" opacity="0.9"><line x1="596.00" y1="124.95" x2="598.60" y2="120.84"/><line x1="596.00" y1="126.07" x2="594.23" y2="121.92"/><line x1="596.00" y1="127.20" x2="590.08" y2="123.50"/><line x1="596.00" y1="128.32" x2="586.65" y2="125.54"/><line x1="596.00" y1="129.45" x2="584.37" y2="127.91"/><line x1="596.00" y1="130.57" x2="583.50" y2="130.48"/><line x1="596.00" y1="131.70" x2="584.17" y2="133.05"/><line x1="596.00" y1="132.82" x2="586.28" y2="135.46"/><line x1="596.00" y1="133.95" x2="589.58" y2="137.55"/><line x1="596.00" y1="135.07" x2="593.66" y2="139.20"/><line x1="596.00" y1="136.20" x2="598.03" y2="140.34"/><line x1="596.00" y1="137.32" x2="602.15" y2="140.98"/><line x1="596.00" y1="138.44" x2="605.52" y2="141.17"/><line x1="596.00" y1="139.57" x2="607.73" y2="141.02"/><line x1="596.00" y1="140.69" x2="608.50" y2="140.70"/><line x1="596.00" y1="141.82" x2="607.74" y2="140.38"/><line x1="596.00" y1="142.94" x2="605.55" y2="140.23"/><line x1="596.00" y1="144.07" x2="602.19" y2="140.42"/><line x1="596.00" y1="145.19" x2="598.08" y2="141.05"/><line x1="596.00" y1="146.32" x2="593.71" y2="142.19"/><line x1="596.00" y1="147.44" x2="589.62" y2="143.83"/><line x1="596.00" y1="148.57" x2="586.31" y2="145.91"/><line x1="596.00" y1="149.69" x2="584.18" y2="148.32"/><line x1="596.00" y1="150.81" x2="583.50" y2="150.90"/><line x1="596.00" y1="151.94" x2="584.35" y2="153.46"/><line x1="596.00" y1="153.06" x2="586.62" y2="155.84"/><line x1="596.00" y1="154.19" x2="590.04" y2="157.88"/><line x1="596.00" y1="155.31" x2="594.18" y2="159.47"/><line x1="596.00" y1="156.44" x2="598.55" y2="160.55"/><line x1="596.00" y1="157.56" x2="602.61" y2="161.13"/><line x1="596.00" y1="158.69" x2="605.86" y2="161.27"/><line x1="596.00" y1="159.81" x2="607.90" y2="161.10"/></g>
<path d="M600.29,120.55 L599.45,120.69 L598.60,120.84 L597.73,121.02 L596.86,121.21 L595.98,121.42 L595.10,121.66 L594.23,121.92 L593.37,122.19 L592.51,122.49 L591.68,122.81 L590.87,123.14 L590.08,123.50 L589.32,123.87 L588.60,124.26 L587.91,124.67 L587.26,125.10 L586.65,125.54 L586.09,125.99 L585.58,126.45 L585.12,126.93 L584.72,127.42 L584.37,127.91 L584.07,128.41 L583.84,128.92 L583.67,129.44 L583.55,129.96 L583.50,130.48 L583.51,131.00 L583.59,131.51 L583.72,132.03 L583.91,132.54 L584.17,133.05 L584.48,133.55 L584.85,134.04 L585.27,134.53 L585.75,135.00 L586.28,135.46 L586.85,135.91 L587.48,136.34 L588.14,136.76 L588.84,137.16 L589.58,137.55 L590.35,137.92 L591.14,138.27 L591.96,138.60 L592.80,138.91 L593.66,139.20 L594.53,139.47 L595.40,139.72 L596.28,139.94 L597.16,140.15 L598.03,140.34 L598.89,140.51 L599.74,140.65 L600.57,140.78 L601.37,140.89 L602.15,140.98 L602.90,141.05 L603.62,141.10 L604.29,141.14 L604.93,141.16 L605.52,141.17 L606.07,141.16 L606.56,141.14 L607.01,141.11 L607.40,141.07 L607.73,141.02 L608.00,140.97 L608.22,140.91 L608.37,140.84 L608.47,140.77 L608.50,140.70 L608.47,140.63 L608.38,140.56 L608.23,140.50 L608.02,140.44 L607.74,140.38 L607.41,140.33 L607.03,140.29 L606.59,140.26 L606.10,140.24 L605.55,140.23 L604.96,140.24 L604.33,140.26 L603.65,140.30 L602.94,140.35 L602.19,140.42 L601.42,140.51 L600.61,140.61 L599.78,140.74 L598.94,140.88 L598.08,141.05 L597.21,141.24 L596.33,141.44 L595.45,141.67 L594.58,141.92 L593.71,142.19 L592.85,142.48 L592.01,142.79 L591.19,143.12 L590.39,143.46 L589.62,143.83 L588.88,144.21 L588.17,144.62 L587.51,145.03 L586.89,145.47 L586.31,145.91 L585.78,146.37 L585.30,146.85 L584.87,147.33 L584.50,147.82 L584.18,148.32 L583.93,148.83 L583.73,149.34 L583.59,149.86 L583.52,150.38 L583.50,150.90 L583.55,151.42 L583.66,151.93 L583.83,152.45 L584.06,152.96 L584.35,153.46 L584.70,153.96 L585.10,154.44 L585.56,154.92 L586.06,155.39 L586.62,155.84 L587.22,156.28 L587.87,156.70 L588.56,157.11 L589.28,157.51 L590.04,157.88 L590.82,158.24 L591.64,158.57 L592.47,158.89 L593.32,159.19 L594.18,159.47 L595.06,159.73 L595.94,159.96 L596.81,160.18 L597.69,160.37 L598.55,160.55 L599.41,160.70 L600.24,160.84 L601.06,160.95 L601.85,161.05 L602.61,161.13 L603.34,161.19 L604.03,161.23 L604.68,161.26 L605.29,161.27 L605.86,161.27 L606.37,161.26 L606.84,161.23 L607.25,161.19 L607.60,161.15 L607.90,161.10 L608.14,161.04 L608.32,160.97 L608.44,160.91" fill="none" stroke="#e46464" stroke-width="1.05"/>
<rect x="513.75" y="25" width="67.50" height="27.00" rx="4.5" fill="#adb3db"/>
<text x="547.50" y="36.20" font-size="10" fill="#26283e" text-anchor="middle" >Observation</text>
<text x="547.50" y="46.80" font-size="10" fill="#26283e" text-anchor="middle" >plane</text>
<line x1="513.00" y1="37.00" x2="499.00" y2="37.00" stroke="#c23a2e" stroke-width="1.45" />
<polygon points="496.00,37.00 501.00,34.50 501.00,39.50" fill="#c23a2e" />
<line x1="582.00" y1="48.00" x2="587.91" y2="57.46" stroke="#c23a2e" stroke-width="1.45" />
<polygon points="589.50,60.00 584.73,57.09 588.97,54.44" fill="#c23a2e" />
<rect x="505.1" y="157.2" width="35.00" height="16.60" rx="4.5" fill="#adb3db"/>
<text x="522.60" y="169.10" font-size="10" fill="#26283e" text-anchor="middle" >QWP</text>
<line x1="504.30" y1="165.80" x2="484.90" y2="165.80" stroke="#c23a2e" stroke-width="1.45" />
<polygon points="481.90,165.80 486.90,163.30 486.90,168.30" fill="#c23a2e" />
<line x1="540.40" y1="165.80" x2="561.00" y2="165.80" stroke="#c23a2e" stroke-width="1.45" />
<polygon points="564.00,165.80 559.00,168.30 559.00,163.30" fill="#c23a2e" />
<rect x="497.2" y="196.1" width="50.00" height="15.60" rx="4.5" fill="#adb3db"/>
<text x="522.20" y="207.50" font-size="10" fill="#26283e" text-anchor="middle" >Polarizer</text>
<line x1="496.30" y1="199.40" x2="481.64" y2="194.37" stroke="#c23a2e" stroke-width="1.45" />
<polygon points="478.80,193.40 484.34,192.66 482.72,197.39" fill="#c23a2e" />
<line x1="547.80" y1="199.40" x2="563.18" y2="193.74" stroke="#c23a2e" stroke-width="1.45" />
<polygon points="566.00,192.70 562.17,196.77 560.44,192.08" fill="#c23a2e" />
<text x="447.5" y="238.3" font-size="10" fill="#333" text-anchor="middle" >(d)</text>
<text x="595.5" y="238.3" font-size="10" fill="#333" text-anchor="middle" >(e)</text>
<line x1="93.55" y1="254.80" x2="93.55" y2="364.60" stroke="#e2e2e2" stroke-width="0.8" />
<line x1="128.30" y1="254.80" x2="128.30" y2="364.60" stroke="#e2e2e2" stroke-width="0.8" />
<line x1="163.05" y1="254.80" x2="163.05" y2="364.60" stroke="#e2e2e2" stroke-width="0.8" />
<line x1="58.80" y1="282.25" x2="197.80" y2="282.25" stroke="#e4e4e4" stroke-width="0.8" />
<line x1="58.80" y1="309.70" x2="197.80" y2="309.70" stroke="#e4e4e4" stroke-width="0.8" />
<line x1="58.80" y1="337.15" x2="197.80" y2="337.15" stroke="#e4e4e4" stroke-width="0.8" />
<line x1="58.80" y1="254.80" x2="197.80" y2="254.80" stroke="#8a8a8a" stroke-width="1.2" />
<line x1="197.80" y1="254.80" x2="197.80" y2="364.60" stroke="#8a8a8a" stroke-width="1.2" />
<line x1="58.80" y1="364.60" x2="205.80" y2="364.60" stroke="#444" stroke-width="1.25" />
<polygon points="207.80,364.60 202.80,366.60 202.80,362.60" fill="#222" />
<line x1="58.80" y1="364.60" x2="58.80" y2="248.80" stroke="#444" stroke-width="1.25" />
<polygon points="58.80,245.30 60.80,250.30 56.80,250.30" fill="#222" />
<path d="M58.80,254.80 L59.26,254.85 L59.73,254.99 L60.19,255.23 L60.65,255.57 L61.12,256.00 L61.58,256.52 L62.04,257.14 L62.51,257.85 L62.97,258.66 L63.43,259.55 L63.90,260.53 L64.36,261.59 L64.82,262.74 L65.29,263.97 L65.75,265.28 L66.21,266.68 L66.68,268.14 L67.14,269.68 L67.60,271.29 L68.07,272.96 L68.53,274.71 L68.99,276.51 L69.46,278.37 L69.92,280.28 L70.38,282.25 L70.85,284.27 L71.31,286.32 L71.77,288.43 L72.24,290.56 L72.70,292.73 L73.16,294.94 L73.63,297.16 L74.09,299.41 L74.55,301.68 L75.02,303.96 L75.48,306.25 L75.94,308.55 L76.41,310.85 L76.87,313.15 L77.33,315.44 L77.80,317.72 L78.26,319.99 L78.72,322.24 L79.19,324.46 L79.65,326.67 L80.11,328.84 L80.58,330.97 L81.04,333.08 L81.50,335.13 L81.97,337.15 L82.43,339.12 L82.89,341.03 L83.36,342.89 L83.82,344.69 L84.28,346.44 L84.75,348.11 L85.21,349.72 L85.67,351.26 L86.14,352.72 L86.60,354.12 L87.06,355.43 L87.53,356.66 L87.99,357.81 L88.45,358.87 L88.92,359.85 L89.38,360.74 L89.84,361.55 L90.31,362.26 L90.77,362.88 L91.23,363.40 L91.70,363.83 L92.16,364.17 L92.62,364.41 L93.09,364.55 L93.55,364.60 L94.01,364.55 L94.48,364.41 L94.94,364.17 L95.40,363.83 L95.87,363.40 L96.33,362.88 L96.79,362.26 L97.26,361.55 L97.72,360.74 L98.18,359.85 L98.65,358.87 L99.11,357.81 L99.57,356.66 L100.04,355.43 L100.50,354.12 L100.96,352.72 L101.43,351.26 L101.89,349.72 L102.35,348.11 L102.82,346.44 L103.28,344.69 L103.74,342.89 L104.21,341.03 L104.67,339.12 L105.13,337.15 L105.60,335.13 L106.06,333.08 L106.52,330.97 L106.99,328.84 L107.45,326.67 L107.91,324.46 L108.38,322.24 L108.84,319.99 L109.30,317.72 L109.77,315.44 L110.23,313.15 L110.69,310.85 L111.16,308.55 L111.62,306.25 L112.08,303.96 L112.55,301.68 L113.01,299.41 L113.47,297.16 L113.94,294.94 L114.40,292.73 L114.86,290.56 L115.33,288.43 L115.79,286.32 L116.25,284.27 L116.72,282.25 L117.18,280.28 L117.64,278.37 L118.11,276.51 L118.57,274.71 L119.03,272.96 L119.50,271.29 L119.96,269.68 L120.42,268.14 L120.89,266.68 L121.35,265.28 L121.81,263.97 L122.28,262.74 L122.74,261.59 L123.20,260.53 L123.67,259.55 L124.13,258.66 L124.59,257.85 L125.06,257.14 L125.52,256.52 L125.98,256.00 L126.45,255.57 L126.91,255.23 L127.37,254.99 L127.84,254.85 L128.30,254.80 L128.76,254.85 L129.23,254.99 L129.69,255.23 L130.15,255.57 L130.62,256.00 L131.08,256.52 L131.54,257.14 L132.01,257.85 L132.47,258.66 L132.93,259.55 L133.40,260.53 L133.86,261.59 L134.32,262.74 L134.79,263.97 L135.25,265.28 L135.71,266.68 L136.18,268.14 L136.64,269.68 L137.10,271.29 L137.57,272.96 L138.03,274.71 L138.49,276.51 L138.96,278.37 L139.42,280.28 L139.88,282.25 L140.35,284.27 L140.81,286.32 L141.27,288.43 L141.74,290.56 L142.20,292.73 L142.66,294.94 L143.13,297.16 L143.59,299.41 L144.05,301.68 L144.52,303.96 L144.98,306.25 L145.44,308.55 L145.91,310.85 L146.37,313.15 L146.83,315.44 L147.30,317.72 L147.76,319.99 L148.22,322.24 L148.69,324.46 L149.15,326.67 L149.61,328.84 L150.08,330.97 L150.54,333.08 L151.00,335.13 L151.47,337.15 L151.93,339.12 L152.39,341.03 L152.86,342.89 L153.32,344.69 L153.78,346.44 L154.25,348.11 L154.71,349.72 L155.17,351.26 L155.64,352.72 L156.10,354.12 L156.56,355.43 L157.03,356.66 L157.49,357.81 L157.95,358.87 L158.42,359.85 L158.88,360.74 L159.34,361.55 L159.81,362.26 L160.27,362.88 L160.73,363.40 L161.20,363.83 L161.66,364.17 L162.12,364.41 L162.59,364.55 L163.05,364.60 L163.51,364.55 L163.98,364.41 L164.44,364.17 L164.90,363.83 L165.37,363.40 L165.83,362.88 L166.29,362.26 L166.76,361.55 L167.22,360.74 L167.68,359.85 L168.15,358.87 L168.61,357.81 L169.07,356.66 L169.54,355.43 L170.00,354.12 L170.46,352.72 L170.93,351.26 L171.39,349.72 L171.85,348.11 L172.32,346.44 L172.78,344.69 L173.24,342.89 L173.71,341.03 L174.17,339.12 L174.63,337.15 L175.10,335.13 L175.56,333.08 L176.02,330.97 L176.49,328.84 L176.95,326.67 L177.41,324.46 L177.88,322.24 L178.34,319.99 L178.80,317.72 L179.27,315.44 L179.73,313.15 L180.19,310.85 L180.66,308.55 L181.12,306.25 L181.58,303.96 L182.05,301.68 L182.51,299.41 L182.97,297.16 L183.44,294.94 L183.90,292.73 L184.36,290.56 L184.83,288.43 L185.29,286.32 L185.75,284.27 L186.22,282.25 L186.68,280.28 L187.14,278.37 L187.61,276.51 L188.07,274.71 L188.53,272.96 L189.00,271.29 L189.46,269.68 L189.92,268.14 L190.39,266.68 L190.85,265.28 L191.31,263.97 L191.78,262.74 L192.24,261.59 L192.70,260.53 L193.17,259.55 L193.63,258.66 L194.09,257.85 L194.56,257.14 L195.02,256.52 L195.48,256.00 L195.95,255.57 L196.41,255.23 L196.87,254.99 L197.34,254.85 L197.80,254.80" fill="none" stroke="#6a98b4" stroke-width="1.5"/>
<line x1="58.8" y1="270.94" x2="197.8" y2="270.94" stroke="#a85e4e" stroke-width="1.35" stroke-dasharray="2.8 2.2"/>
<line x1="58.8" y1="331.66" x2="197.8" y2="331.66" stroke="#a85e4e" stroke-width="1.35" stroke-dasharray="2.8 2.2"/>
<circle cx="67.60" cy="270.94" r="3.4" fill="#8cc152"/>
<circle cx="119.50" cy="270.94" r="3.4" fill="#8cc152"/>
<circle cx="137.10" cy="270.94" r="3.4" fill="#8cc152"/>
<circle cx="189.00" cy="270.94" r="3.4" fill="#8cc152"/>
<polygon points="80.70,327.46 84.69,334.39 76.71,334.39" fill="#7d3c8e"/>
<polygon points="106.40,327.46 110.39,334.39 102.41,334.39" fill="#7d3c8e"/>
<polygon points="150.20,327.46 154.19,334.39 146.21,334.39" fill="#7d3c8e"/>
<polygon points="175.90,327.46 179.89,334.39 171.91,334.39" fill="#7d3c8e"/>
<line x1="93.55" y1="364.60" x2="93.55" y2="362.10" stroke="#222" stroke-width="0.8" />
<text x="93.55" y="376.6" font-size="9.5" fill="#333" text-anchor="middle" ><tspan font-family="Liberation Serif">π</tspan>/4</text>
<line x1="128.30" y1="364.60" x2="128.30" y2="362.10" stroke="#222" stroke-width="0.8" />
<text x="128.3" y="376.6" font-size="9.5" fill="#333" text-anchor="middle" ><tspan font-family="Liberation Serif">π</tspan>/2</text>
<line x1="163.05" y1="364.60" x2="163.05" y2="362.10" stroke="#222" stroke-width="0.8" />
<text x="163.05" y="376.6" font-size="9.5" fill="#333" text-anchor="middle" >3<tspan font-family="Liberation Serif">π</tspan>/4</text>
<text x="197.8" y="376.6" font-size="10" fill="#333" text-anchor="middle" font-family="Liberation Serif">π</text>
<text x="56.8" y="373.1" font-size="10.2" fill="#333" text-anchor="end" >0</text>
<line x1="58.80" y1="254.80" x2="61.30" y2="254.80" stroke="#222" stroke-width="0.8" />
<text x="56.0" y="258.2" font-size="9.5" fill="#333" text-anchor="end" >1</text>
<line x1="58.80" y1="282.25" x2="61.30" y2="282.25" stroke="#222" stroke-width="0.8" />
<text x="56.0" y="285.65" font-size="9.5" fill="#333" text-anchor="end" >3/4</text>
<line x1="58.80" y1="309.70" x2="61.30" y2="309.70" stroke="#222" stroke-width="0.8" />
<text x="56.0" y="313.09999999999997" font-size="9.5" fill="#333" text-anchor="end" >1/2</text>
<line x1="58.80" y1="337.15" x2="61.30" y2="337.15" stroke="#222" stroke-width="0.8" />
<text x="56.0" y="340.54999999999995" font-size="9.5" fill="#333" text-anchor="end" >1/4</text>
<text x="132.3" y="388.90000000000003" font-size="10.1" fill="#333" text-anchor="middle" >Orientation angle (rad)</text>
<text x="35.2" y="305.2" font-size="10.1" fill="#333" text-anchor="middle" transform="rotate(-90 35.2 305.2)">Normalized intensity</text>
<text x="129.4" y="406" font-size="10" fill="#333" text-anchor="middle" >(f)</text>
<line x1="305.27" y1="257.00" x2="305.27" y2="366.60" stroke="#e2e2e2" stroke-width="0.8" />
<line x1="339.85" y1="257.00" x2="339.85" y2="366.60" stroke="#e2e2e2" stroke-width="0.8" />
<line x1="374.43" y1="257.00" x2="374.43" y2="366.60" stroke="#e2e2e2" stroke-width="0.8" />
<line x1="270.70" y1="257.00" x2="409.00" y2="257.00" stroke="#8a8a8a" stroke-width="1.2" />
<line x1="409.00" y1="257.00" x2="409.00" y2="366.60" stroke="#8a8a8a" stroke-width="1.2" />
<line x1="270.70" y1="366.60" x2="417.00" y2="366.60" stroke="#444" stroke-width="1.25" />
<polygon points="419.00,366.60 414.00,368.60 414.00,364.60" fill="#222" />
<line x1="270.70" y1="366.60" x2="270.70" y2="251.00" stroke="#444" stroke-width="1.25" />
<polygon points="270.70,247.50 272.70,252.50 268.70,252.50" fill="#222" />
<path d="M270.70,311.80 L271.16,309.51 L271.62,307.21 L272.08,304.93 L272.54,302.66 L273.00,300.41 L273.47,298.17 L273.93,295.96 L274.39,293.78 L274.85,291.63 L275.31,289.51 L275.77,287.43 L276.23,285.40 L276.69,283.41 L277.15,281.47 L277.62,279.59 L278.08,277.76 L278.54,275.99 L279.00,274.29 L279.46,272.65 L279.92,271.08 L280.38,269.58 L280.84,268.15 L281.30,266.80 L281.76,265.53 L282.22,264.34 L282.69,263.24 L283.15,262.22 L283.61,261.28 L284.07,260.44 L284.53,259.68 L284.99,259.02 L285.45,258.45 L285.91,257.97 L286.37,257.59 L286.83,257.30 L287.30,257.11 L287.76,257.01 L288.22,257.01 L288.68,257.11 L289.14,257.30 L289.60,257.59 L290.06,257.97 L290.52,258.45 L290.98,259.02 L291.44,259.68 L291.91,260.44 L292.37,261.28 L292.83,262.22 L293.29,263.24 L293.75,264.34 L294.21,265.53 L294.67,266.80 L295.13,268.15 L295.59,269.58 L296.06,271.08 L296.52,272.65 L296.98,274.29 L297.44,275.99 L297.90,277.76 L298.36,279.59 L298.82,281.47 L299.28,283.41 L299.74,285.40 L300.20,287.43 L300.66,289.51 L301.13,291.63 L301.59,293.78 L302.05,295.96 L302.51,298.17 L302.97,300.41 L303.43,302.66 L303.89,304.93 L304.35,307.21 L304.81,309.51 L305.27,311.80 L305.74,314.09 L306.20,316.39 L306.66,318.67 L307.12,320.94 L307.58,323.19 L308.04,325.43 L308.50,327.64 L308.96,329.82 L309.42,331.97 L309.88,334.09 L310.35,336.17 L310.81,338.20 L311.27,340.19 L311.73,342.13 L312.19,344.01 L312.65,345.84 L313.11,347.61 L313.57,349.31 L314.03,350.95 L314.50,352.52 L314.96,354.02 L315.42,355.45 L315.88,356.80 L316.34,358.07 L316.80,359.26 L317.26,360.36 L317.72,361.38 L318.18,362.32 L318.64,363.16 L319.11,363.92 L319.57,364.58 L320.03,365.15 L320.49,365.63 L320.95,366.01 L321.41,366.30 L321.87,366.49 L322.33,366.59 L322.79,366.59 L323.25,366.49 L323.72,366.30 L324.18,366.01 L324.64,365.63 L325.10,365.15 L325.56,364.58 L326.02,363.92 L326.48,363.16 L326.94,362.32 L327.40,361.38 L327.86,360.36 L328.32,359.26 L328.79,358.07 L329.25,356.80 L329.71,355.45 L330.17,354.02 L330.63,352.52 L331.09,350.95 L331.55,349.31 L332.01,347.61 L332.47,345.84 L332.94,344.01 L333.40,342.13 L333.86,340.19 L334.32,338.20 L334.78,336.17 L335.24,334.09 L335.70,331.97 L336.16,329.82 L336.62,327.64 L337.08,325.43 L337.54,323.19 L338.01,320.94 L338.47,318.67 L338.93,316.39 L339.39,314.09 L339.85,311.80 L340.31,309.51 L340.77,307.21 L341.23,304.93 L341.69,302.66 L342.15,300.41 L342.62,298.17 L343.08,295.96 L343.54,293.78 L344.00,291.63 L344.46,289.51 L344.92,287.43 L345.38,285.40 L345.84,283.41 L346.30,281.47 L346.76,279.59 L347.23,277.76 L347.69,275.99 L348.15,274.29 L348.61,272.65 L349.07,271.08 L349.53,269.58 L349.99,268.15 L350.45,266.80 L350.91,265.53 L351.38,264.34 L351.84,263.24 L352.30,262.22 L352.76,261.28 L353.22,260.44 L353.68,259.68 L354.14,259.02 L354.60,258.45 L355.06,257.97 L355.52,257.59 L355.99,257.30 L356.45,257.11 L356.91,257.01 L357.37,257.01 L357.83,257.11 L358.29,257.30 L358.75,257.59 L359.21,257.97 L359.67,258.45 L360.13,259.02 L360.59,259.68 L361.06,260.44 L361.52,261.28 L361.98,262.22 L362.44,263.24 L362.90,264.34 L363.36,265.53 L363.82,266.80 L364.28,268.15 L364.74,269.58 L365.20,271.08 L365.67,272.65 L366.13,274.29 L366.59,275.99 L367.05,277.76 L367.51,279.59 L367.97,281.47 L368.43,283.41 L368.89,285.40 L369.35,287.43 L369.81,289.51 L370.28,291.63 L370.74,293.78 L371.20,295.96 L371.66,298.17 L372.12,300.41 L372.58,302.66 L373.04,304.93 L373.50,307.21 L373.96,309.51 L374.43,311.80 L374.89,314.09 L375.35,316.39 L375.81,318.67 L376.27,320.94 L376.73,323.19 L377.19,325.43 L377.65,327.64 L378.11,329.82 L378.57,331.97 L379.03,334.09 L379.50,336.17 L379.96,338.20 L380.42,340.19 L380.88,342.13 L381.34,344.01 L381.80,345.84 L382.26,347.61 L382.72,349.31 L383.18,350.95 L383.64,352.52 L384.11,354.02 L384.57,355.45 L385.03,356.80 L385.49,358.07 L385.95,359.26 L386.41,360.36 L386.87,361.38 L387.33,362.32 L387.79,363.16 L388.25,363.92 L388.72,364.58 L389.18,365.15 L389.64,365.63 L390.10,366.01 L390.56,366.30 L391.02,366.49 L391.48,366.59 L391.94,366.59 L392.40,366.49 L392.87,366.30 L393.33,366.01 L393.79,365.63 L394.25,365.15 L394.71,364.58 L395.17,363.92 L395.63,363.16 L396.09,362.32 L396.55,361.38 L397.01,360.36 L397.48,359.26 L397.94,358.07 L398.40,356.80 L398.86,355.45 L399.32,354.02 L399.78,352.52 L400.24,350.95 L400.70,349.31 L401.16,347.61 L401.62,345.84 L402.09,344.01 L402.55,342.13 L403.01,340.19 L403.47,338.20 L403.93,336.17 L404.39,334.09 L404.85,331.97 L405.31,329.82 L405.77,327.64 L406.23,325.43 L406.70,323.19 L407.16,320.94 L407.62,318.67 L408.08,316.39 L408.54,314.09 L409.00,311.80" fill="none" stroke="#dc8850" stroke-width="1.5"/>
<line x1="270.7" y1="311.80" x2="409" y2="311.80" stroke="#a85e4e" stroke-width="1.35" stroke-dasharray="2.8 2.2"/>
<circle cx="279.30" cy="273.20" r="3.4" fill="#8cc152"/>
<circle cx="331.50" cy="349.50" r="3.4" fill="#8cc152"/>
<circle cx="348.50" cy="273.03" r="3.4" fill="#8cc152"/>
<circle cx="400.80" cy="348.96" r="3.4" fill="#8cc152"/>
<polygon points="292.50,257.30 296.49,264.23 288.51,264.23" fill="#7d3c8e"/>
<polygon points="318.00,357.50 321.99,364.43 314.01,364.43" fill="#7d3c8e"/>
<polygon points="362.00,257.30 365.99,264.23 358.01,264.23" fill="#7d3c8e"/>
<polygon points="387.50,357.50 391.49,364.43 383.51,364.43" fill="#7d3c8e"/>
<line x1="305.27" y1="366.60" x2="305.27" y2="364.10" stroke="#222" stroke-width="0.8" />
<text x="305.275" y="378.6" font-size="9.5" fill="#333" text-anchor="middle" ><tspan font-family="Liberation Serif">π</tspan>/4</text>
<line x1="339.85" y1="366.60" x2="339.85" y2="364.10" stroke="#222" stroke-width="0.8" />
<text x="339.85" y="378.6" font-size="9.5" fill="#333" text-anchor="middle" ><tspan font-family="Liberation Serif">π</tspan>/2</text>
<line x1="374.43" y1="366.60" x2="374.43" y2="364.10" stroke="#222" stroke-width="0.8" />
<text x="374.425" y="378.6" font-size="9.5" fill="#333" text-anchor="middle" >3<tspan font-family="Liberation Serif">π</tspan>/4</text>
<text x="409" y="378.6" font-size="10" fill="#333" text-anchor="middle" font-family="Liberation Serif">π</text>
<text x="268.7" y="375.1" font-size="10.2" fill="#333" text-anchor="end" >0</text>
<line x1="270.70" y1="257.00" x2="273.20" y2="257.00" stroke="#222" stroke-width="0.8" />
<text x="267.9" y="260.4" font-size="9.5" fill="#333" text-anchor="end" >1</text>
<line x1="270.70" y1="311.80" x2="273.20" y2="311.80" stroke="#222" stroke-width="0.8" />
<text x="267.9" y="315.2" font-size="9.5" fill="#333" text-anchor="end" >1/2</text>
<text x="343.85" y="390.90000000000003" font-size="10.1" fill="#333" text-anchor="middle" >Orientation angle (rad)</text>
<text x="246.8" y="307" font-size="10.1" fill="#333" text-anchor="middle" transform="rotate(-90 246.8 307)">Normalized intensity</text>
<text x="340.5" y="406" font-size="10" fill="#333" text-anchor="middle" >(g)</text>
<line x1="517.42" y1="256.90" x2="517.42" y2="366.20" stroke="#e2e2e2" stroke-width="0.8" />
<line x1="552.05" y1="256.90" x2="552.05" y2="366.20" stroke="#e2e2e2" stroke-width="0.8" />
<line x1="586.67" y1="256.90" x2="586.67" y2="366.20" stroke="#e2e2e2" stroke-width="0.8" />
<line x1="482.80" y1="284.20" x2="621.30" y2="284.20" stroke="#e4e4e4" stroke-width="0.8" />
<line x1="482.80" y1="311.50" x2="621.30" y2="311.50" stroke="#e4e4e4" stroke-width="0.8" />
<line x1="482.80" y1="338.80" x2="621.30" y2="338.80" stroke="#e4e4e4" stroke-width="0.8" />
<line x1="482.80" y1="256.90" x2="621.30" y2="256.90" stroke="#8a8a8a" stroke-width="1.2" />
<line x1="621.30" y1="256.90" x2="621.30" y2="366.20" stroke="#8a8a8a" stroke-width="1.2" />
<line x1="482.80" y1="366.20" x2="629.30" y2="366.20" stroke="#444" stroke-width="1.25" />
<polygon points="631.30,366.20 626.30,368.20 626.30,364.20" fill="#222" />
<line x1="482.80" y1="366.20" x2="482.80" y2="250.90" stroke="#444" stroke-width="1.25" />
<polygon points="482.80,247.40 484.80,252.40 480.80,252.40" fill="#222" />
<line x1="482.8" y1="366.2" x2="621.3" y2="256.9" stroke="#46699c" stroke-width="1.3"/>
<line x1="482.8" y1="256.9" x2="621.3" y2="366.2" stroke="#b8643c" stroke-width="1.3"/>
<circle cx="491.00" cy="359.73" r="3.4" fill="#8cc152"/>
<circle cx="491.00" cy="263.37" r="3.4" fill="#8cc152"/>
<circle cx="543.00" cy="318.69" r="3.4" fill="#8cc152"/>
<circle cx="543.00" cy="304.41" r="3.4" fill="#8cc152"/>
<circle cx="560.50" cy="304.88" r="3.4" fill="#8cc152"/>
<circle cx="560.50" cy="318.22" r="3.4" fill="#8cc152"/>
<circle cx="612.60" cy="263.77" r="3.4" fill="#8cc152"/>
<circle cx="612.60" cy="359.33" r="3.4" fill="#8cc152"/>
<polygon points="504.00,345.27 507.99,352.20 500.01,352.20" fill="#7d3c8e"/>
<polygon points="504.00,269.43 507.99,276.36 500.01,276.36" fill="#7d3c8e"/>
<polygon points="530.00,324.75 533.99,331.68 526.01,331.68" fill="#7d3c8e"/>
<polygon points="530.00,289.95 533.99,296.88 526.01,296.88" fill="#7d3c8e"/>
<polygon points="573.80,290.19 577.79,297.12 569.81,297.12" fill="#7d3c8e"/>
<polygon points="573.80,324.51 577.79,331.44 569.81,331.44" fill="#7d3c8e"/>
<polygon points="599.40,269.98 603.39,276.91 595.41,276.91" fill="#7d3c8e"/>
<polygon points="599.40,344.72 603.39,351.65 595.41,351.65" fill="#7d3c8e"/>
<line x1="517.42" y1="366.20" x2="517.42" y2="363.70" stroke="#222" stroke-width="0.8" />
<text x="517.425" y="378.2" font-size="9.5" fill="#333" text-anchor="middle" ><tspan font-family="Liberation Serif">π</tspan>/4</text>
<line x1="552.05" y1="366.20" x2="552.05" y2="363.70" stroke="#222" stroke-width="0.8" />
<text x="552.05" y="378.2" font-size="9.5" fill="#333" text-anchor="middle" ><tspan font-family="Liberation Serif">π</tspan>/2</text>
<line x1="586.67" y1="366.20" x2="586.67" y2="363.70" stroke="#222" stroke-width="0.8" />
<text x="586.675" y="378.2" font-size="9.5" fill="#333" text-anchor="middle" >3<tspan font-family="Liberation Serif">π</tspan>/4</text>
<text x="621.3" y="378.2" font-size="10" fill="#333" text-anchor="middle" font-family="Liberation Serif">π</text>
<text x="480.8" y="374.7" font-size="10.2" fill="#333" text-anchor="end" >0</text>
<line x1="482.80" y1="256.90" x2="485.30" y2="256.90" stroke="#222" stroke-width="0.8" />
<text x="480.0" y="260.29999999999995" font-size="9.5" fill="#333" text-anchor="end" >2<tspan font-family="Liberation Serif">π</tspan></text>
<line x1="482.80" y1="284.20" x2="485.30" y2="284.20" stroke="#222" stroke-width="0.8" />
<text x="480.0" y="287.59999999999997" font-size="9.5" fill="#333" text-anchor="end" >3<tspan font-family="Liberation Serif">π</tspan>/2</text>
<line x1="482.80" y1="311.50" x2="485.30" y2="311.50" stroke="#222" stroke-width="0.8" />
<text x="480.0" y="314.9" font-size="9.5" fill="#333" text-anchor="end" ><tspan font-family="Liberation Serif">π</tspan></text>
<line x1="482.80" y1="338.80" x2="485.30" y2="338.80" stroke="#222" stroke-width="0.8" />
<text x="480.0" y="342.19999999999993" font-size="9.5" fill="#333" text-anchor="end" ><tspan font-family="Liberation Serif">π</tspan>/2</text>
<text x="556.05" y="390.5" font-size="10.1" fill="#333" text-anchor="middle" >Orientation angle (rad)</text>
<rect x="578" y="296" width="42" height="24" fill="#fff"/>
<line x1="579.00" y1="302.80" x2="591.50" y2="302.80" stroke="#4e6c96" stroke-width="1.3" />
<text x="592.8" y="306" font-size="10" fill="#333" text-anchor="start" >LCP</text>
<line x1="579.00" y1="315.30" x2="591.50" y2="315.30" stroke="#b07050" stroke-width="1.3" />
<text x="592.8" y="318.5" font-size="10" fill="#333" text-anchor="start" >RCP</text>
<text x="460" y="305.9" font-size="10.2" fill="#333" text-anchor="middle" transform="rotate(-90 460 305.9)">Geometric phase (rad)</text>
<text x="552" y="406" font-size="10" fill="#333" text-anchor="middle" >(h)</text>
</svg></body></html>
